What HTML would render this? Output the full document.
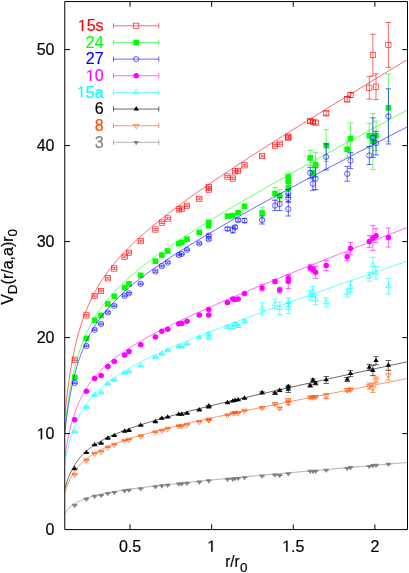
<!DOCTYPE html>
<html><head><meta charset="utf-8"><title>V_D potentials</title>
<style>
html,body{margin:0;padding:0;background:#fff;}
body{width:409px;height:573px;overflow:hidden;position:relative;font-family:"Liberation Sans",sans-serif;}
svg text{font-family:"Liberation Sans",sans-serif;stroke-width:0.18px;paint-order:stroke;}
</style></head><body>
<svg width="409" height="573" viewBox="0 0 409 573" style="position:absolute;left:0;top:0;will-change:transform">
<defs><clipPath id="c"><rect x="64.75" y="1.55" width="342.75" height="528.0500000000001"/></clipPath></defs>
<g clip-path="url(#c)">
<path d="M74.70 358.90V360.70M71.90 358.90H77.50M71.90 360.70H77.50" stroke="#ff0000" stroke-width="0.6" fill="none"/>
<rect x="72.05" y="357.15" width="5.30" height="5.30" fill="none" stroke="#ff0000" stroke-width="0.6"/>
<path d="M86.40 314.50V316.30M83.60 314.50H89.20M83.60 316.30H89.20" stroke="#ff0000" stroke-width="0.6" fill="none"/>
<rect x="83.75" y="312.75" width="5.30" height="5.30" fill="none" stroke="#ff0000" stroke-width="0.6"/>
<path d="M94.60 295.00V296.80M91.80 295.00H97.40M91.80 296.80H97.40" stroke="#ff0000" stroke-width="0.6" fill="none"/>
<rect x="91.95" y="293.25" width="5.30" height="5.30" fill="none" stroke="#ff0000" stroke-width="0.6"/>
<path d="M101.10 290.10V291.90M98.30 290.10H103.90M98.30 291.90H103.90" stroke="#ff0000" stroke-width="0.6" fill="none"/>
<rect x="98.45" y="288.35" width="5.30" height="5.30" fill="none" stroke="#ff0000" stroke-width="0.6"/>
<path d="M107.80 277.40V279.20M105.00 277.40H110.60M105.00 279.20H110.60" stroke="#ff0000" stroke-width="0.6" fill="none"/>
<rect x="105.15" y="275.65" width="5.30" height="5.30" fill="none" stroke="#ff0000" stroke-width="0.6"/>
<path d="M114.30 267.60V269.40M111.50 267.60H117.10M111.50 269.40H117.10" stroke="#ff0000" stroke-width="0.6" fill="none"/>
<rect x="111.65" y="265.85" width="5.30" height="5.30" fill="none" stroke="#ff0000" stroke-width="0.6"/>
<path d="M124.60 255.90V257.70M121.80 255.90H127.40M121.80 257.70H127.40" stroke="#ff0000" stroke-width="0.6" fill="none"/>
<rect x="121.95" y="254.15" width="5.30" height="5.30" fill="none" stroke="#ff0000" stroke-width="0.6"/>
<path d="M129.00 251.90V253.70M126.20 251.90H131.80M126.20 253.70H131.80" stroke="#ff0000" stroke-width="0.6" fill="none"/>
<rect x="126.35" y="250.15" width="5.30" height="5.30" fill="none" stroke="#ff0000" stroke-width="0.6"/>
<path d="M140.70 240.20V242.00M137.90 240.20H143.50M137.90 242.00H143.50" stroke="#ff0000" stroke-width="0.6" fill="none"/>
<rect x="138.05" y="238.45" width="5.30" height="5.30" fill="none" stroke="#ff0000" stroke-width="0.6"/>
<path d="M155.40 228.60V230.40M152.60 228.60H158.20M152.60 230.40H158.20" stroke="#ff0000" stroke-width="0.6" fill="none"/>
<rect x="152.75" y="226.85" width="5.30" height="5.30" fill="none" stroke="#ff0000" stroke-width="0.6"/>
<path d="M161.80 221.70V223.50M159.00 221.70H164.60M159.00 223.50H164.60" stroke="#ff0000" stroke-width="0.6" fill="none"/>
<rect x="159.15" y="219.95" width="5.30" height="5.30" fill="none" stroke="#ff0000" stroke-width="0.6"/>
<path d="M167.70 217.60V219.40M164.90 217.60H170.50M164.90 219.40H170.50" stroke="#ff0000" stroke-width="0.6" fill="none"/>
<rect x="165.05" y="215.85" width="5.30" height="5.30" fill="none" stroke="#ff0000" stroke-width="0.6"/>
<path d="M178.80 208.50V210.30M176.00 208.50H181.60M176.00 210.30H181.60" stroke="#ff0000" stroke-width="0.6" fill="none"/>
<rect x="176.15" y="206.75" width="5.30" height="5.30" fill="none" stroke="#ff0000" stroke-width="0.6"/>
<path d="M181.70 207.80V209.60M178.90 207.80H184.50M178.90 209.60H184.50" stroke="#ff0000" stroke-width="0.6" fill="none"/>
<rect x="179.05" y="206.05" width="5.30" height="5.30" fill="none" stroke="#ff0000" stroke-width="0.6"/>
<path d="M187.00 204.80V206.60M184.20 204.80H189.80M184.20 206.60H189.80" stroke="#ff0000" stroke-width="0.6" fill="none"/>
<rect x="184.35" y="203.05" width="5.30" height="5.30" fill="none" stroke="#ff0000" stroke-width="0.6"/>
<path d="M199.30 198.00V199.80M196.50 198.00H202.10M196.50 199.80H202.10" stroke="#ff0000" stroke-width="0.6" fill="none"/>
<rect x="196.65" y="196.25" width="5.30" height="5.30" fill="none" stroke="#ff0000" stroke-width="0.6"/>
<path d="M208.70 186.30V188.10M205.90 186.30H211.50M205.90 188.10H211.50" stroke="#ff0000" stroke-width="0.6" fill="none"/>
<rect x="206.05" y="184.55" width="5.30" height="5.30" fill="none" stroke="#ff0000" stroke-width="0.6"/>
<path d="M208.70 188.70V190.50M205.90 188.70H211.50M205.90 190.50H211.50" stroke="#ff0000" stroke-width="0.6" fill="none"/>
<rect x="206.05" y="186.95" width="5.30" height="5.30" fill="none" stroke="#ff0000" stroke-width="0.6"/>
<path d="M227.50 175.60V177.40M224.70 175.60H230.30M224.70 177.40H230.30" stroke="#ff0000" stroke-width="0.6" fill="none"/>
<rect x="224.85" y="173.85" width="5.30" height="5.30" fill="none" stroke="#ff0000" stroke-width="0.6"/>
<path d="M232.80 177.70V179.50M230.00 177.70H235.60M230.00 179.50H235.60" stroke="#ff0000" stroke-width="0.6" fill="none"/>
<rect x="230.15" y="175.95" width="5.30" height="5.30" fill="none" stroke="#ff0000" stroke-width="0.6"/>
<path d="M235.10 170.50V172.30M232.30 170.50H237.90M232.30 172.30H237.90" stroke="#ff0000" stroke-width="0.6" fill="none"/>
<rect x="232.45" y="168.75" width="5.30" height="5.30" fill="none" stroke="#ff0000" stroke-width="0.6"/>
<path d="M238.10 170.00V171.80M235.30 170.00H240.90M235.30 171.80H240.90" stroke="#ff0000" stroke-width="0.6" fill="none"/>
<rect x="235.45" y="168.25" width="5.30" height="5.30" fill="none" stroke="#ff0000" stroke-width="0.6"/>
<path d="M244.50 164.40V166.20M241.70 164.40H247.30M241.70 166.20H247.30" stroke="#ff0000" stroke-width="0.6" fill="none"/>
<rect x="241.85" y="162.65" width="5.30" height="5.30" fill="none" stroke="#ff0000" stroke-width="0.6"/>
<path d="M262.10 155.20V157.00M259.30 155.20H264.90M259.30 157.00H264.90" stroke="#ff0000" stroke-width="0.6" fill="none"/>
<rect x="259.45" y="153.45" width="5.30" height="5.30" fill="none" stroke="#ff0000" stroke-width="0.6"/>
<path d="M275.00 144.60V146.60M272.20 144.60H277.80M272.20 146.60H277.80" stroke="#ff0000" stroke-width="0.6" fill="none"/>
<rect x="272.35" y="142.95" width="5.30" height="5.30" fill="none" stroke="#ff0000" stroke-width="0.6"/>
<path d="M279.70 142.60V144.60M276.90 142.60H282.50M276.90 144.60H282.50" stroke="#ff0000" stroke-width="0.6" fill="none"/>
<rect x="277.05" y="140.95" width="5.30" height="5.30" fill="none" stroke="#ff0000" stroke-width="0.6"/>
<path d="M288.30 135.40V137.80M285.50 135.40H291.10M285.50 137.80H291.10" stroke="#ff0000" stroke-width="0.6" fill="none"/>
<rect x="285.65" y="133.95" width="5.30" height="5.30" fill="none" stroke="#ff0000" stroke-width="0.6"/>
<path d="M288.30 136.40V138.80M285.50 136.40H291.10M285.50 138.80H291.10" stroke="#ff0000" stroke-width="0.6" fill="none"/>
<rect x="285.65" y="134.95" width="5.30" height="5.30" fill="none" stroke="#ff0000" stroke-width="0.6"/>
<path d="M310.20 119.60V122.60M307.40 119.60H313.00M307.40 122.60H313.00" stroke="#ff0000" stroke-width="0.6" fill="none"/>
<rect x="307.55" y="118.45" width="5.30" height="5.30" fill="none" stroke="#ff0000" stroke-width="0.6"/>
<path d="M312.90 120.40V123.40M310.10 120.40H315.70M310.10 123.40H315.70" stroke="#ff0000" stroke-width="0.6" fill="none"/>
<rect x="310.25" y="119.25" width="5.30" height="5.30" fill="none" stroke="#ff0000" stroke-width="0.6"/>
<path d="M315.60 121.10V124.10M312.80 121.10H318.40M312.80 124.10H318.40" stroke="#ff0000" stroke-width="0.6" fill="none"/>
<rect x="312.95" y="119.95" width="5.30" height="5.30" fill="none" stroke="#ff0000" stroke-width="0.6"/>
<path d="M326.20 111.30V115.30M323.40 111.30H329.00M323.40 115.30H329.00" stroke="#ff0000" stroke-width="0.6" fill="none"/>
<rect x="323.55" y="110.65" width="5.30" height="5.30" fill="none" stroke="#ff0000" stroke-width="0.6"/>
<path d="M347.20 96.80V101.80M344.40 96.80H350.00M344.40 101.80H350.00" stroke="#ff0000" stroke-width="0.6" fill="none"/>
<rect x="344.55" y="96.65" width="5.30" height="5.30" fill="none" stroke="#ff0000" stroke-width="0.6"/>
<path d="M350.50 92.50V97.50M347.70 92.50H353.30M347.70 97.50H353.30" stroke="#ff0000" stroke-width="0.6" fill="none"/>
<rect x="347.85" y="92.35" width="5.30" height="5.30" fill="none" stroke="#ff0000" stroke-width="0.6"/>
<path d="M369.30 76.60V99.00M366.50 76.60H372.10M366.50 99.00H372.10" stroke="#ff0000" stroke-width="0.6" fill="none"/>
<rect x="366.65" y="85.15" width="5.30" height="5.30" fill="none" stroke="#ff0000" stroke-width="0.6"/>
<path d="M372.90 34.30V75.90M370.10 34.30H375.70M370.10 75.90H375.70" stroke="#ff0000" stroke-width="0.6" fill="none"/>
<rect x="370.25" y="52.45" width="5.30" height="5.30" fill="none" stroke="#ff0000" stroke-width="0.6"/>
<path d="M376.00 73.80V99.60M373.20 73.80H378.80M373.20 99.60H378.80" stroke="#ff0000" stroke-width="0.6" fill="none"/>
<rect x="373.35" y="84.05" width="5.30" height="5.30" fill="none" stroke="#ff0000" stroke-width="0.6"/>
<path d="M388.40 22.45V67.45M385.60 22.45H391.20M385.60 67.45H391.20" stroke="#ff0000" stroke-width="0.6" fill="none"/>
<rect x="385.75" y="42.30" width="5.30" height="5.30" fill="none" stroke="#ff0000" stroke-width="0.6"/>
<path d="M64.75 417.20 L65.22 412.25 L65.70 407.55 L66.17 403.09 L66.64 398.85 L67.12 394.80 L67.59 390.95 L68.06 387.26 L68.53 383.74 L69.01 380.36 L69.48 377.13 L69.95 374.02 L70.43 371.04 L70.90 368.17 L71.37 365.41 L71.85 362.74 L72.32 360.18 L72.79 357.70 L73.27 355.30 L73.74 352.99 L74.21 350.75 L74.68 348.58 L75.16 346.48 L75.63 344.44 L76.10 342.46 L76.58 340.54 L77.05 338.67 L77.52 336.86 L78.00 335.09 L78.47 333.37 L78.94 331.70 L79.42 330.07 L79.89 328.48 L80.36 326.92 L80.83 325.41 L81.31 323.93 L81.78 322.49 L82.25 321.08 L82.73 319.70 L83.20 318.35 L83.67 317.02 L84.15 315.73 L84.62 314.46 L85.09 313.22 L85.57 312.01 L86.04 310.81 L86.51 309.64 L86.98 308.49 L87.46 307.37 L87.93 306.26 L88.40 305.17 L88.88 304.10 L89.35 303.06 L89.82 302.02 L90.30 301.01 L90.77 300.01 L91.24 299.03 L91.72 298.06 L92.19 297.11 L92.66 296.17 L93.14 295.25 L93.61 294.34 L94.08 293.44 L94.55 292.56 L95.03 291.69 L95.50 290.83 L95.97 289.98 L96.45 289.14 L96.92 288.32 L97.39 287.50 L99.49 284.02 L101.58 280.71 L103.67 277.56 L105.76 274.56 L107.86 271.68 L109.95 268.91 L112.04 266.25 L114.13 263.67 L116.23 261.18 L118.32 258.77 L120.41 256.43 L122.50 254.15 L124.60 251.93 L126.69 249.76 L128.78 247.64 L130.87 245.57 L132.97 243.54 L135.06 241.55 L137.15 239.60 L139.24 237.68 L141.34 235.79 L143.43 233.93 L145.52 232.10 L147.61 230.30 L149.71 228.52 L151.80 226.76 L153.89 225.03 L155.98 223.31 L158.08 221.62 L160.17 219.94 L162.26 218.28 L164.35 216.63 L166.45 215.00 L168.54 213.39 L170.63 211.78 L172.72 210.20 L174.82 208.62 L176.91 207.05 L179.00 205.50 L184.19 201.69 L189.39 197.94 L194.58 194.24 L199.77 190.59 L204.97 186.98 L210.16 183.41 L215.35 179.87 L220.55 176.36 L225.74 172.88 L230.93 169.43 L236.12 166.01 L241.32 162.60 L246.51 159.22 L251.70 155.85 L256.90 152.50 L262.09 149.17 L267.28 145.85 L272.48 142.55 L277.67 139.26 L282.86 135.98 L288.06 132.72 L293.25 129.46 L298.44 126.22 L303.64 122.98 L308.83 119.75 L314.02 116.53 L319.22 113.32 L324.41 110.12 L329.60 106.92 L334.80 103.73 L339.99 100.54 L345.18 97.36 L350.38 94.19 L355.57 91.02 L360.76 87.86 L365.95 84.70 L371.15 81.55 L376.34 78.40 L381.53 75.26 L386.73 72.11 L391.92 68.98 L397.11 65.84 L402.31 62.71 L407.50 59.59" fill="none" stroke="#ff0000" stroke-width="0.6"/>
</g>
<g clip-path="url(#c)">
<path d="M74.70 376.50V378.10M71.90 376.50H77.50M71.90 378.10H77.50" stroke="#00ff00" stroke-width="0.6" fill="none"/>
<rect x="71.90" y="374.50" width="5.60" height="5.60" fill="#00ff00"/>
<path d="M86.40 337.60V339.20M83.60 337.60H89.20M83.60 339.20H89.20" stroke="#00ff00" stroke-width="0.6" fill="none"/>
<rect x="83.60" y="335.60" width="5.60" height="5.60" fill="#00ff00"/>
<path d="M94.60 319.40V321.00M91.80 319.40H97.40M91.80 321.00H97.40" stroke="#00ff00" stroke-width="0.6" fill="none"/>
<rect x="91.80" y="317.40" width="5.60" height="5.60" fill="#00ff00"/>
<path d="M101.10 314.60V316.20M98.30 314.60H103.90M98.30 316.20H103.90" stroke="#00ff00" stroke-width="0.6" fill="none"/>
<rect x="98.30" y="312.60" width="5.60" height="5.60" fill="#00ff00"/>
<path d="M107.80 303.10V304.70M105.00 303.10H110.60M105.00 304.70H110.60" stroke="#00ff00" stroke-width="0.6" fill="none"/>
<rect x="105.00" y="301.10" width="5.60" height="5.60" fill="#00ff00"/>
<path d="M114.30 295.50V297.10M111.50 295.50H117.10M111.50 297.10H117.10" stroke="#00ff00" stroke-width="0.6" fill="none"/>
<rect x="111.50" y="293.50" width="5.60" height="5.60" fill="#00ff00"/>
<path d="M124.60 286.90V288.50M121.80 286.90H127.40M121.80 288.50H127.40" stroke="#00ff00" stroke-width="0.6" fill="none"/>
<rect x="121.80" y="284.90" width="5.60" height="5.60" fill="#00ff00"/>
<path d="M129.00 283.00V284.60M126.20 283.00H131.80M126.20 284.60H131.80" stroke="#00ff00" stroke-width="0.6" fill="none"/>
<rect x="126.20" y="281.00" width="5.60" height="5.60" fill="#00ff00"/>
<path d="M140.70 274.50V276.10M137.90 274.50H143.50M137.90 276.10H143.50" stroke="#00ff00" stroke-width="0.6" fill="none"/>
<rect x="137.90" y="272.50" width="5.60" height="5.60" fill="#00ff00"/>
<path d="M155.40 260.40V262.00M152.60 260.40H158.20M152.60 262.00H158.20" stroke="#00ff00" stroke-width="0.6" fill="none"/>
<rect x="152.60" y="258.40" width="5.60" height="5.60" fill="#00ff00"/>
<path d="M161.80 254.30V255.90M159.00 254.30H164.60M159.00 255.90H164.60" stroke="#00ff00" stroke-width="0.6" fill="none"/>
<rect x="159.00" y="252.30" width="5.60" height="5.60" fill="#00ff00"/>
<path d="M167.70 250.20V251.80M164.90 250.20H170.50M164.90 251.80H170.50" stroke="#00ff00" stroke-width="0.6" fill="none"/>
<rect x="164.90" y="248.20" width="5.60" height="5.60" fill="#00ff00"/>
<path d="M178.80 242.80V244.40M176.00 242.80H181.60M176.00 244.40H181.60" stroke="#00ff00" stroke-width="0.6" fill="none"/>
<rect x="176.00" y="240.80" width="5.60" height="5.60" fill="#00ff00"/>
<path d="M181.70 241.60V243.20M178.90 241.60H184.50M178.90 243.20H184.50" stroke="#00ff00" stroke-width="0.6" fill="none"/>
<rect x="178.90" y="239.60" width="5.60" height="5.60" fill="#00ff00"/>
<path d="M187.00 238.40V240.00M184.20 238.40H189.80M184.20 240.00H189.80" stroke="#00ff00" stroke-width="0.6" fill="none"/>
<rect x="184.20" y="236.40" width="5.60" height="5.60" fill="#00ff00"/>
<path d="M199.30 231.60V233.20M196.50 231.60H202.10M196.50 233.20H202.10" stroke="#00ff00" stroke-width="0.6" fill="none"/>
<rect x="196.50" y="229.60" width="5.60" height="5.60" fill="#00ff00"/>
<path d="M208.70 221.40V223.40M205.90 221.40H211.50M205.90 223.40H211.50" stroke="#00ff00" stroke-width="0.6" fill="none"/>
<rect x="205.90" y="219.60" width="5.60" height="5.60" fill="#00ff00"/>
<path d="M208.70 224.80V226.80M205.90 224.80H211.50M205.90 226.80H211.50" stroke="#00ff00" stroke-width="0.6" fill="none"/>
<rect x="205.90" y="223.00" width="5.60" height="5.60" fill="#00ff00"/>
<path d="M227.50 214.60V217.60M224.70 214.60H230.30M224.70 217.60H230.30" stroke="#00ff00" stroke-width="0.6" fill="none"/>
<rect x="224.70" y="213.30" width="5.60" height="5.60" fill="#00ff00"/>
<path d="M232.80 214.10V217.10M230.00 214.10H235.60M230.00 217.10H235.60" stroke="#00ff00" stroke-width="0.6" fill="none"/>
<rect x="230.00" y="212.80" width="5.60" height="5.60" fill="#00ff00"/>
<path d="M238.10 211.10V214.10M235.30 211.10H240.90M235.30 214.10H240.90" stroke="#00ff00" stroke-width="0.6" fill="none"/>
<rect x="235.30" y="209.80" width="5.60" height="5.60" fill="#00ff00"/>
<path d="M244.50 204.20V208.20M241.70 204.20H247.30M241.70 208.20H247.30" stroke="#00ff00" stroke-width="0.6" fill="none"/>
<rect x="241.70" y="203.40" width="5.60" height="5.60" fill="#00ff00"/>
<path d="M262.10 207.20V218.60M259.30 207.20H264.90M259.30 218.60H264.90" stroke="#00ff00" stroke-width="0.6" fill="none"/>
<rect x="259.30" y="210.10" width="5.60" height="5.60" fill="#00ff00"/>
<path d="M275.00 187.50V199.50M272.20 187.50H277.80M272.20 199.50H277.80" stroke="#00ff00" stroke-width="0.6" fill="none"/>
<rect x="272.20" y="190.70" width="5.60" height="5.60" fill="#00ff00"/>
<path d="M279.70 189.70V201.70M276.90 189.70H282.50M276.90 201.70H282.50" stroke="#00ff00" stroke-width="0.6" fill="none"/>
<rect x="276.90" y="192.90" width="5.60" height="5.60" fill="#00ff00"/>
<path d="M288.30 173.00V181.00M285.50 173.00H291.10M285.50 181.00H291.10" stroke="#00ff00" stroke-width="0.6" fill="none"/>
<rect x="285.50" y="174.20" width="5.60" height="5.60" fill="#00ff00"/>
<path d="M288.30 177.40V185.40M285.50 177.40H291.10M285.50 185.40H291.10" stroke="#00ff00" stroke-width="0.6" fill="none"/>
<rect x="285.50" y="178.60" width="5.60" height="5.60" fill="#00ff00"/>
<path d="M288.30 181.00V195.00M285.50 181.00H291.10M285.50 195.00H291.10" stroke="#00ff00" stroke-width="0.6" fill="none"/>
<rect x="285.50" y="185.20" width="5.60" height="5.60" fill="#00ff00"/>
<path d="M310.20 150.50V165.30M307.40 150.50H313.00M307.40 165.30H313.00" stroke="#00ff00" stroke-width="0.6" fill="none"/>
<rect x="307.40" y="155.10" width="5.60" height="5.60" fill="#00ff00"/>
<path d="M312.90 165.80V179.80M310.10 165.80H315.70M310.10 179.80H315.70" stroke="#00ff00" stroke-width="0.6" fill="none"/>
<rect x="310.10" y="170.00" width="5.60" height="5.60" fill="#00ff00"/>
<path d="M315.60 152.40V176.80M312.80 152.40H318.40M312.80 176.80H318.40" stroke="#00ff00" stroke-width="0.6" fill="none"/>
<rect x="312.80" y="161.80" width="5.60" height="5.60" fill="#00ff00"/>
<path d="M326.20 129.70V161.50M323.40 129.70H329.00M323.40 161.50H329.00" stroke="#00ff00" stroke-width="0.6" fill="none"/>
<rect x="323.40" y="142.80" width="5.60" height="5.60" fill="#00ff00"/>
<path d="M347.20 141.20V157.20M344.40 141.20H350.00M344.40 157.20H350.00" stroke="#00ff00" stroke-width="0.6" fill="none"/>
<rect x="344.40" y="146.40" width="5.60" height="5.60" fill="#00ff00"/>
<path d="M350.50 122.90V154.10M347.70 122.90H353.30M347.70 154.10H353.30" stroke="#00ff00" stroke-width="0.6" fill="none"/>
<rect x="347.70" y="135.70" width="5.60" height="5.60" fill="#00ff00"/>
<path d="M369.30 123.30V148.10M366.50 123.30H372.10M366.50 148.10H372.10" stroke="#00ff00" stroke-width="0.6" fill="none"/>
<rect x="366.50" y="132.90" width="5.60" height="5.60" fill="#00ff00"/>
<path d="M372.90 113.50V169.50M370.10 113.50H375.70M370.10 169.50H375.70" stroke="#00ff00" stroke-width="0.6" fill="none"/>
<rect x="370.10" y="138.70" width="5.60" height="5.60" fill="#00ff00"/>
<path d="M376.00 121.00V150.40M373.20 121.00H378.80M373.20 150.40H378.80" stroke="#00ff00" stroke-width="0.6" fill="none"/>
<rect x="373.20" y="132.90" width="5.60" height="5.60" fill="#00ff00"/>
<path d="M388.40 74.00V141.60M385.60 74.00H391.20M385.60 141.60H391.20" stroke="#00ff00" stroke-width="0.6" fill="none"/>
<rect x="385.60" y="105.00" width="5.60" height="5.60" fill="#00ff00"/>
<path d="M64.75 429.25 L65.22 424.82 L65.70 420.63 L66.17 416.65 L66.64 412.86 L67.12 409.25 L67.59 405.80 L68.06 402.51 L68.53 399.37 L69.01 396.35 L69.48 393.46 L69.95 390.69 L70.43 388.03 L70.90 385.47 L71.37 383.00 L71.85 380.62 L72.32 378.33 L72.79 376.12 L73.27 373.98 L73.74 371.91 L74.21 369.91 L74.68 367.97 L75.16 366.10 L75.63 364.28 L76.10 362.51 L76.58 360.80 L77.05 359.13 L77.52 357.51 L78.00 355.93 L78.47 354.40 L78.94 352.90 L79.42 351.45 L79.89 350.03 L80.36 348.64 L80.83 347.29 L81.31 345.97 L81.78 344.68 L82.25 343.42 L82.73 342.19 L83.20 340.98 L83.67 339.80 L84.15 338.64 L84.62 337.51 L85.09 336.41 L85.57 335.32 L86.04 334.25 L86.51 333.21 L86.98 332.18 L87.46 331.18 L87.93 330.19 L88.40 329.22 L88.88 328.26 L89.35 327.33 L89.82 326.41 L90.30 325.50 L90.77 324.61 L91.24 323.73 L91.72 322.87 L92.19 322.02 L92.66 321.18 L93.14 320.36 L93.61 319.55 L94.08 318.74 L94.55 317.96 L95.03 317.18 L95.50 316.41 L95.97 315.65 L96.45 314.91 L96.92 314.17 L97.39 313.44 L99.49 310.33 L101.58 307.38 L103.67 304.57 L105.76 301.88 L107.86 299.31 L109.95 296.84 L112.04 294.46 L114.13 292.16 L116.23 289.94 L118.32 287.79 L120.41 285.70 L122.50 283.66 L124.60 281.68 L126.69 279.74 L128.78 277.85 L130.87 276.00 L132.97 274.19 L135.06 272.42 L137.15 270.67 L139.24 268.96 L141.34 267.27 L143.43 265.61 L145.52 263.98 L147.61 262.37 L149.71 260.78 L151.80 259.21 L153.89 257.66 L155.98 256.13 L158.08 254.61 L160.17 253.12 L162.26 251.63 L164.35 250.16 L166.45 248.71 L168.54 247.27 L170.63 245.84 L172.72 244.42 L174.82 243.01 L176.91 241.61 L179.00 240.23 L184.19 236.82 L189.39 233.47 L194.58 230.17 L199.77 226.91 L204.97 223.69 L210.16 220.50 L215.35 217.34 L220.55 214.21 L225.74 211.10 L230.93 208.02 L236.12 204.96 L241.32 201.92 L246.51 198.90 L251.70 195.90 L256.90 192.91 L262.09 189.93 L267.28 186.97 L272.48 184.02 L277.67 181.08 L282.86 178.16 L288.06 175.24 L293.25 172.33 L298.44 169.43 L303.64 166.55 L308.83 163.66 L314.02 160.79 L319.22 157.92 L324.41 155.06 L329.60 152.21 L334.80 149.36 L339.99 146.51 L345.18 143.67 L350.38 140.84 L355.57 138.01 L360.76 135.19 L365.95 132.37 L371.15 129.55 L376.34 126.74 L381.53 123.94 L386.73 121.13 L391.92 118.33 L397.11 115.53 L402.31 112.74 L407.50 109.95" fill="none" stroke="#00ff00" stroke-width="0.6"/>
</g>
<g clip-path="url(#c)">
<path d="M74.70 382.10V383.70M71.90 382.10H77.50M71.90 383.70H77.50" stroke="#0000ff" stroke-width="0.6" fill="none"/>
<circle cx="74.70" cy="382.90" r="2.65" fill="none" stroke="#0000ff" stroke-width="0.6"/>
<path d="M86.40 345.10V346.70M83.60 345.10H89.20M83.60 346.70H89.20" stroke="#0000ff" stroke-width="0.6" fill="none"/>
<circle cx="86.40" cy="345.90" r="2.65" fill="none" stroke="#0000ff" stroke-width="0.6"/>
<path d="M94.60 329.00V330.60M91.80 329.00H97.40M91.80 330.60H97.40" stroke="#0000ff" stroke-width="0.6" fill="none"/>
<circle cx="94.60" cy="329.80" r="2.65" fill="none" stroke="#0000ff" stroke-width="0.6"/>
<path d="M101.10 323.10V324.70M98.30 323.10H103.90M98.30 324.70H103.90" stroke="#0000ff" stroke-width="0.6" fill="none"/>
<circle cx="101.10" cy="323.90" r="2.65" fill="none" stroke="#0000ff" stroke-width="0.6"/>
<path d="M107.80 311.70V313.30M105.00 311.70H110.60M105.00 313.30H110.60" stroke="#0000ff" stroke-width="0.6" fill="none"/>
<circle cx="107.80" cy="312.50" r="2.65" fill="none" stroke="#0000ff" stroke-width="0.6"/>
<path d="M114.30 305.00V306.60M111.50 305.00H117.10M111.50 306.60H117.10" stroke="#0000ff" stroke-width="0.6" fill="none"/>
<circle cx="114.30" cy="305.80" r="2.65" fill="none" stroke="#0000ff" stroke-width="0.6"/>
<path d="M124.60 295.10V296.70M121.80 295.10H127.40M121.80 296.70H127.40" stroke="#0000ff" stroke-width="0.6" fill="none"/>
<circle cx="124.60" cy="295.90" r="2.65" fill="none" stroke="#0000ff" stroke-width="0.6"/>
<path d="M129.00 292.50V294.10M126.20 292.50H131.80M126.20 294.10H131.80" stroke="#0000ff" stroke-width="0.6" fill="none"/>
<circle cx="129.00" cy="293.30" r="2.65" fill="none" stroke="#0000ff" stroke-width="0.6"/>
<path d="M140.70 283.00V284.60M137.90 283.00H143.50M137.90 284.60H143.50" stroke="#0000ff" stroke-width="0.6" fill="none"/>
<circle cx="140.70" cy="283.80" r="2.65" fill="none" stroke="#0000ff" stroke-width="0.6"/>
<path d="M155.40 270.70V272.30M152.60 270.70H158.20M152.60 272.30H158.20" stroke="#0000ff" stroke-width="0.6" fill="none"/>
<circle cx="155.40" cy="271.50" r="2.65" fill="none" stroke="#0000ff" stroke-width="0.6"/>
<path d="M161.80 265.30V266.90M159.00 265.30H164.60M159.00 266.90H164.60" stroke="#0000ff" stroke-width="0.6" fill="none"/>
<circle cx="161.80" cy="266.10" r="2.65" fill="none" stroke="#0000ff" stroke-width="0.6"/>
<path d="M167.70 261.70V263.30M164.90 261.70H170.50M164.90 263.30H170.50" stroke="#0000ff" stroke-width="0.6" fill="none"/>
<circle cx="167.70" cy="262.50" r="2.65" fill="none" stroke="#0000ff" stroke-width="0.6"/>
<path d="M178.80 254.30V255.90M176.00 254.30H181.60M176.00 255.90H181.60" stroke="#0000ff" stroke-width="0.6" fill="none"/>
<circle cx="178.80" cy="255.10" r="2.65" fill="none" stroke="#0000ff" stroke-width="0.6"/>
<path d="M181.70 253.10V254.70M178.90 253.10H184.50M178.90 254.70H184.50" stroke="#0000ff" stroke-width="0.6" fill="none"/>
<circle cx="181.70" cy="253.90" r="2.65" fill="none" stroke="#0000ff" stroke-width="0.6"/>
<path d="M187.00 249.00V250.60M184.20 249.00H189.80M184.20 250.60H189.80" stroke="#0000ff" stroke-width="0.6" fill="none"/>
<circle cx="187.00" cy="249.80" r="2.65" fill="none" stroke="#0000ff" stroke-width="0.6"/>
<path d="M199.30 242.70V244.30M196.50 242.70H202.10M196.50 244.30H202.10" stroke="#0000ff" stroke-width="0.6" fill="none"/>
<circle cx="199.30" cy="243.50" r="2.65" fill="none" stroke="#0000ff" stroke-width="0.6"/>
<path d="M208.70 234.60V236.60M205.90 234.60H211.50M205.90 236.60H211.50" stroke="#0000ff" stroke-width="0.6" fill="none"/>
<circle cx="208.70" cy="235.60" r="2.65" fill="none" stroke="#0000ff" stroke-width="0.6"/>
<path d="M208.70 238.10V240.10M205.90 238.10H211.50M205.90 240.10H211.50" stroke="#0000ff" stroke-width="0.6" fill="none"/>
<circle cx="208.70" cy="239.10" r="2.65" fill="none" stroke="#0000ff" stroke-width="0.6"/>
<path d="M227.50 227.40V230.40M224.70 227.40H230.30M224.70 230.40H230.30" stroke="#0000ff" stroke-width="0.6" fill="none"/>
<circle cx="227.50" cy="228.90" r="2.65" fill="none" stroke="#0000ff" stroke-width="0.6"/>
<path d="M232.80 227.00V233.00M230.00 227.00H235.60M230.00 233.00H235.60" stroke="#0000ff" stroke-width="0.6" fill="none"/>
<circle cx="232.80" cy="230.00" r="2.65" fill="none" stroke="#0000ff" stroke-width="0.6"/>
<path d="M235.10 225.70V228.70M232.30 225.70H237.90M232.30 228.70H237.90" stroke="#0000ff" stroke-width="0.6" fill="none"/>
<circle cx="235.10" cy="227.20" r="2.65" fill="none" stroke="#0000ff" stroke-width="0.6"/>
<path d="M238.10 218.70V221.70M235.30 218.70H240.90M235.30 221.70H240.90" stroke="#0000ff" stroke-width="0.6" fill="none"/>
<circle cx="238.10" cy="220.20" r="2.65" fill="none" stroke="#0000ff" stroke-width="0.6"/>
<path d="M244.50 218.60V222.60M241.70 218.60H247.30M241.70 222.60H247.30" stroke="#0000ff" stroke-width="0.6" fill="none"/>
<circle cx="244.50" cy="220.60" r="2.65" fill="none" stroke="#0000ff" stroke-width="0.6"/>
<path d="M262.10 216.00V224.00M259.30 216.00H264.90M259.30 224.00H264.90" stroke="#0000ff" stroke-width="0.6" fill="none"/>
<circle cx="262.10" cy="220.00" r="2.65" fill="none" stroke="#0000ff" stroke-width="0.6"/>
<path d="M275.00 200.60V210.60M272.20 200.60H277.80M272.20 210.60H277.80" stroke="#0000ff" stroke-width="0.6" fill="none"/>
<circle cx="275.00" cy="205.60" r="2.65" fill="none" stroke="#0000ff" stroke-width="0.6"/>
<path d="M279.70 197.60V210.60M276.90 197.60H282.50M276.90 210.60H282.50" stroke="#0000ff" stroke-width="0.6" fill="none"/>
<circle cx="279.70" cy="204.10" r="2.65" fill="none" stroke="#0000ff" stroke-width="0.6"/>
<path d="M288.30 189.50V197.50M285.50 189.50H291.10M285.50 197.50H291.10" stroke="#0000ff" stroke-width="0.6" fill="none"/>
<circle cx="288.30" cy="193.50" r="2.65" fill="none" stroke="#0000ff" stroke-width="0.6"/>
<path d="M288.30 194.00V202.00M285.50 194.00H291.10M285.50 202.00H291.10" stroke="#0000ff" stroke-width="0.6" fill="none"/>
<circle cx="288.30" cy="198.00" r="2.65" fill="none" stroke="#0000ff" stroke-width="0.6"/>
<path d="M288.30 202.00V216.00M285.50 202.00H291.10M285.50 216.00H291.10" stroke="#0000ff" stroke-width="0.6" fill="none"/>
<circle cx="288.30" cy="209.00" r="2.65" fill="none" stroke="#0000ff" stroke-width="0.6"/>
<path d="M310.20 167.30V178.30M307.40 167.30H313.00M307.40 178.30H313.00" stroke="#0000ff" stroke-width="0.6" fill="none"/>
<circle cx="310.20" cy="172.80" r="2.65" fill="none" stroke="#0000ff" stroke-width="0.6"/>
<path d="M312.90 177.30V190.30M310.10 177.30H315.70M310.10 190.30H315.70" stroke="#0000ff" stroke-width="0.6" fill="none"/>
<circle cx="312.90" cy="183.80" r="2.65" fill="none" stroke="#0000ff" stroke-width="0.6"/>
<path d="M315.60 167.80V189.60M312.80 167.80H318.40M312.80 189.60H318.40" stroke="#0000ff" stroke-width="0.6" fill="none"/>
<circle cx="315.60" cy="178.70" r="2.65" fill="none" stroke="#0000ff" stroke-width="0.6"/>
<path d="M326.20 143.90V169.90M323.40 143.90H329.00M323.40 169.90H329.00" stroke="#0000ff" stroke-width="0.6" fill="none"/>
<circle cx="326.20" cy="156.90" r="2.65" fill="none" stroke="#0000ff" stroke-width="0.6"/>
<path d="M347.20 166.40V181.20M344.40 166.40H350.00M344.40 181.20H350.00" stroke="#0000ff" stroke-width="0.6" fill="none"/>
<circle cx="347.20" cy="173.80" r="2.65" fill="none" stroke="#0000ff" stroke-width="0.6"/>
<path d="M350.50 152.60V168.60M347.70 152.60H353.30M347.70 168.60H353.30" stroke="#0000ff" stroke-width="0.6" fill="none"/>
<circle cx="350.50" cy="160.60" r="2.65" fill="none" stroke="#0000ff" stroke-width="0.6"/>
<path d="M369.30 146.50V164.50M366.50 146.50H372.10M366.50 164.50H372.10" stroke="#0000ff" stroke-width="0.6" fill="none"/>
<circle cx="369.30" cy="155.50" r="2.65" fill="none" stroke="#0000ff" stroke-width="0.6"/>
<path d="M372.90 117.80V157.40M370.10 117.80H375.70M370.10 157.40H375.70" stroke="#0000ff" stroke-width="0.6" fill="none"/>
<circle cx="372.90" cy="137.60" r="2.65" fill="none" stroke="#0000ff" stroke-width="0.6"/>
<path d="M376.00 131.30V154.90M373.20 131.30H378.80M373.20 154.90H378.80" stroke="#0000ff" stroke-width="0.6" fill="none"/>
<circle cx="376.00" cy="143.10" r="2.65" fill="none" stroke="#0000ff" stroke-width="0.6"/>
<path d="M388.40 88.80V144.00M385.60 88.80H391.20M385.60 144.00H391.20" stroke="#0000ff" stroke-width="0.6" fill="none"/>
<circle cx="388.40" cy="116.40" r="2.65" fill="none" stroke="#0000ff" stroke-width="0.6"/>
<path d="M64.75 433.26 L65.22 429.01 L65.70 424.99 L66.17 421.16 L66.64 417.53 L67.12 414.06 L67.59 410.75 L68.06 407.60 L68.53 404.57 L69.01 401.68 L69.48 398.91 L69.95 396.25 L70.43 393.69 L70.90 391.23 L71.37 388.86 L71.85 386.58 L72.32 384.38 L72.79 382.26 L73.27 380.20 L73.74 378.22 L74.21 376.30 L74.68 374.44 L75.16 372.64 L75.63 370.89 L76.10 369.19 L76.58 367.55 L77.05 365.95 L77.52 364.39 L78.00 362.88 L78.47 361.40 L78.94 359.97 L79.42 358.57 L79.89 357.21 L80.36 355.88 L80.83 354.58 L81.31 353.31 L81.78 352.08 L82.25 350.87 L82.73 349.68 L83.20 348.52 L83.67 347.39 L84.15 346.28 L84.62 345.20 L85.09 344.13 L85.57 343.09 L86.04 342.07 L86.51 341.06 L86.98 340.08 L87.46 339.11 L87.93 338.17 L88.40 337.23 L88.88 336.32 L89.35 335.42 L89.82 334.53 L90.30 333.66 L90.77 332.81 L91.24 331.97 L91.72 331.14 L92.19 330.32 L92.66 329.52 L93.14 328.73 L93.61 327.95 L94.08 327.18 L94.55 326.42 L95.03 325.67 L95.50 324.94 L95.97 324.21 L96.45 323.49 L96.92 322.79 L97.39 322.09 L99.49 319.10 L101.58 316.27 L103.67 313.57 L105.76 310.99 L107.86 308.52 L109.95 306.15 L112.04 303.87 L114.13 301.66 L116.23 299.53 L118.32 297.46 L120.41 295.45 L122.50 293.50 L124.60 291.60 L126.69 289.74 L128.78 287.92 L130.87 286.15 L132.97 284.41 L135.06 282.70 L137.15 281.03 L139.24 279.38 L141.34 277.77 L143.43 276.17 L145.52 274.60 L147.61 273.06 L149.71 271.53 L151.80 270.03 L153.89 268.54 L155.98 267.07 L158.08 265.61 L160.17 264.18 L162.26 262.75 L164.35 261.34 L166.45 259.94 L168.54 258.56 L170.63 257.19 L172.72 255.82 L174.82 254.47 L176.91 253.13 L179.00 251.80 L184.19 248.54 L189.39 245.32 L194.58 242.15 L199.77 239.02 L204.97 235.92 L210.16 232.86 L215.35 229.83 L220.55 226.82 L225.74 223.84 L230.93 220.89 L236.12 217.95 L241.32 215.03 L246.51 212.13 L251.70 209.24 L256.90 206.37 L262.09 203.52 L267.28 200.68 L272.48 197.84 L277.67 195.02 L282.86 192.21 L288.06 189.41 L293.25 186.62 L298.44 183.84 L303.64 181.07 L308.83 178.30 L314.02 175.54 L319.22 172.79 L324.41 170.04 L329.60 167.30 L334.80 164.57 L339.99 161.84 L345.18 159.11 L350.38 156.39 L355.57 153.68 L360.76 150.97 L365.95 148.26 L371.15 145.56 L376.34 142.86 L381.53 140.16 L386.73 137.47 L391.92 134.78 L397.11 132.09 L402.31 129.41 L407.50 126.73" fill="none" stroke="#0000ff" stroke-width="0.6"/>
</g>
<g clip-path="url(#c)">
<path d="M74.70 419.20V420.40M71.90 419.20H77.50M71.90 420.40H77.50" stroke="#ff00ff" stroke-width="0.6" fill="none"/>
<circle cx="74.70" cy="419.80" r="2.75" fill="#ff00ff"/>
<path d="M86.40 390.60V391.80M83.60 390.60H89.20M83.60 391.80H89.20" stroke="#ff00ff" stroke-width="0.6" fill="none"/>
<circle cx="86.40" cy="391.20" r="2.75" fill="#ff00ff"/>
<path d="M94.60 377.80V379.00M91.80 377.80H97.40M91.80 379.00H97.40" stroke="#ff00ff" stroke-width="0.6" fill="none"/>
<circle cx="94.60" cy="378.40" r="2.75" fill="#ff00ff"/>
<path d="M101.10 375.00V376.20M98.30 375.00H103.90M98.30 376.20H103.90" stroke="#ff00ff" stroke-width="0.6" fill="none"/>
<circle cx="101.10" cy="375.60" r="2.75" fill="#ff00ff"/>
<path d="M107.80 365.90V367.10M105.00 365.90H110.60M105.00 367.10H110.60" stroke="#ff00ff" stroke-width="0.6" fill="none"/>
<circle cx="107.80" cy="366.50" r="2.75" fill="#ff00ff"/>
<path d="M114.30 360.90V362.10M111.50 360.90H117.10M111.50 362.10H117.10" stroke="#ff00ff" stroke-width="0.6" fill="none"/>
<circle cx="114.30" cy="361.50" r="2.75" fill="#ff00ff"/>
<path d="M124.60 354.30V355.50M121.80 354.30H127.40M121.80 355.50H127.40" stroke="#ff00ff" stroke-width="0.6" fill="none"/>
<circle cx="124.60" cy="354.90" r="2.75" fill="#ff00ff"/>
<path d="M129.00 351.00V352.20M126.20 351.00H131.80M126.20 352.20H131.80" stroke="#ff00ff" stroke-width="0.6" fill="none"/>
<circle cx="129.00" cy="351.60" r="2.75" fill="#ff00ff"/>
<path d="M140.70 344.20V345.40M137.90 344.20H143.50M137.90 345.40H143.50" stroke="#ff00ff" stroke-width="0.6" fill="none"/>
<circle cx="140.70" cy="344.80" r="2.75" fill="#ff00ff"/>
<path d="M155.40 336.30V337.50M152.60 336.30H158.20M152.60 337.50H158.20" stroke="#ff00ff" stroke-width="0.6" fill="none"/>
<circle cx="155.40" cy="336.90" r="2.75" fill="#ff00ff"/>
<path d="M161.80 330.60V331.80M159.00 330.60H164.60M159.00 331.80H164.60" stroke="#ff00ff" stroke-width="0.6" fill="none"/>
<circle cx="161.80" cy="331.20" r="2.75" fill="#ff00ff"/>
<path d="M167.70 328.60V329.80M164.90 328.60H170.50M164.90 329.80H170.50" stroke="#ff00ff" stroke-width="0.6" fill="none"/>
<circle cx="167.70" cy="329.20" r="2.75" fill="#ff00ff"/>
<path d="M178.80 323.10V324.30M176.00 323.10H181.60M176.00 324.30H181.60" stroke="#ff00ff" stroke-width="0.6" fill="none"/>
<circle cx="178.80" cy="323.70" r="2.75" fill="#ff00ff"/>
<path d="M181.70 322.90V324.10M178.90 322.90H184.50M178.90 324.10H184.50" stroke="#ff00ff" stroke-width="0.6" fill="none"/>
<circle cx="181.70" cy="323.50" r="2.75" fill="#ff00ff"/>
<path d="M187.00 320.70V321.90M184.20 320.70H189.80M184.20 321.90H189.80" stroke="#ff00ff" stroke-width="0.6" fill="none"/>
<circle cx="187.00" cy="321.30" r="2.75" fill="#ff00ff"/>
<path d="M199.30 314.30V315.50M196.50 314.30H202.10M196.50 315.50H202.10" stroke="#ff00ff" stroke-width="0.6" fill="none"/>
<circle cx="199.30" cy="314.90" r="2.75" fill="#ff00ff"/>
<path d="M208.70 308.80V310.00M205.90 308.80H211.50M205.90 310.00H211.50" stroke="#ff00ff" stroke-width="0.6" fill="none"/>
<circle cx="208.70" cy="309.40" r="2.75" fill="#ff00ff"/>
<path d="M208.70 314.30V315.50M205.90 314.30H211.50M205.90 315.50H211.50" stroke="#ff00ff" stroke-width="0.6" fill="none"/>
<circle cx="208.70" cy="314.90" r="2.75" fill="#ff00ff"/>
<path d="M227.50 301.80V303.00M224.70 301.80H230.30M224.70 303.00H230.30" stroke="#ff00ff" stroke-width="0.6" fill="none"/>
<circle cx="227.50" cy="302.40" r="2.75" fill="#ff00ff"/>
<path d="M232.80 298.50V299.70M230.00 298.50H235.60M230.00 299.70H235.60" stroke="#ff00ff" stroke-width="0.6" fill="none"/>
<circle cx="232.80" cy="299.10" r="2.75" fill="#ff00ff"/>
<path d="M235.10 298.90V300.10M232.30 298.90H237.90M232.30 300.10H237.90" stroke="#ff00ff" stroke-width="0.6" fill="none"/>
<circle cx="235.10" cy="299.50" r="2.75" fill="#ff00ff"/>
<path d="M238.10 298.30V299.50M235.30 298.30H240.90M235.30 299.50H240.90" stroke="#ff00ff" stroke-width="0.6" fill="none"/>
<circle cx="238.10" cy="298.90" r="2.75" fill="#ff00ff"/>
<path d="M244.50 292.60V294.60M241.70 292.60H247.30M241.70 294.60H247.30" stroke="#ff00ff" stroke-width="0.6" fill="none"/>
<circle cx="244.50" cy="293.60" r="2.75" fill="#ff00ff"/>
<path d="M262.10 284.90V290.90M259.30 284.90H264.90M259.30 290.90H264.90" stroke="#ff00ff" stroke-width="0.6" fill="none"/>
<circle cx="262.10" cy="287.90" r="2.75" fill="#ff00ff"/>
<path d="M275.00 279.50V283.50M272.20 279.50H277.80M272.20 283.50H277.80" stroke="#ff00ff" stroke-width="0.6" fill="none"/>
<circle cx="275.00" cy="281.50" r="2.75" fill="#ff00ff"/>
<path d="M279.70 287.10V293.10M276.90 287.10H282.50M276.90 293.10H282.50" stroke="#ff00ff" stroke-width="0.6" fill="none"/>
<circle cx="279.70" cy="290.10" r="2.75" fill="#ff00ff"/>
<path d="M288.30 275.60V281.60M285.50 275.60H291.10M285.50 281.60H291.10" stroke="#ff00ff" stroke-width="0.6" fill="none"/>
<circle cx="288.30" cy="278.60" r="2.75" fill="#ff00ff"/>
<path d="M288.30 274.50V288.50M285.50 274.50H291.10M285.50 288.50H291.10" stroke="#ff00ff" stroke-width="0.6" fill="none"/>
<circle cx="288.30" cy="281.50" r="2.75" fill="#ff00ff"/>
<path d="M310.20 264.70V270.70M307.40 264.70H313.00M307.40 270.70H313.00" stroke="#ff00ff" stroke-width="0.6" fill="none"/>
<circle cx="310.20" cy="267.70" r="2.75" fill="#ff00ff"/>
<path d="M312.90 266.60V272.60M310.10 266.60H315.70M310.10 272.60H315.70" stroke="#ff00ff" stroke-width="0.6" fill="none"/>
<circle cx="312.90" cy="269.60" r="2.75" fill="#ff00ff"/>
<path d="M315.60 266.30V278.30M312.80 266.30H318.40M312.80 278.30H318.40" stroke="#ff00ff" stroke-width="0.6" fill="none"/>
<circle cx="315.60" cy="272.30" r="2.75" fill="#ff00ff"/>
<path d="M326.20 260.60V270.60M323.40 260.60H329.00M323.40 270.60H329.00" stroke="#ff00ff" stroke-width="0.6" fill="none"/>
<circle cx="326.20" cy="265.60" r="2.75" fill="#ff00ff"/>
<path d="M347.20 252.70V260.70M344.40 252.70H350.00M344.40 260.70H350.00" stroke="#ff00ff" stroke-width="0.6" fill="none"/>
<circle cx="347.20" cy="256.70" r="2.75" fill="#ff00ff"/>
<path d="M350.50 242.40V254.80M347.70 242.40H353.30M347.70 254.80H353.30" stroke="#ff00ff" stroke-width="0.6" fill="none"/>
<circle cx="350.50" cy="248.60" r="2.75" fill="#ff00ff"/>
<path d="M369.30 235.40V247.40M366.50 235.40H372.10M366.50 247.40H372.10" stroke="#ff00ff" stroke-width="0.6" fill="none"/>
<circle cx="369.30" cy="241.40" r="2.75" fill="#ff00ff"/>
<path d="M372.90 225.40V250.40M370.10 225.40H375.70M370.10 250.40H375.70" stroke="#ff00ff" stroke-width="0.6" fill="none"/>
<circle cx="372.90" cy="237.90" r="2.75" fill="#ff00ff"/>
<path d="M376.00 228.70V242.70M373.20 228.70H378.80M373.20 242.70H378.80" stroke="#ff00ff" stroke-width="0.6" fill="none"/>
<circle cx="376.00" cy="235.70" r="2.75" fill="#ff00ff"/>
<path d="M388.40 228.10V247.10M385.60 228.10H391.20M385.60 247.10H391.20" stroke="#ff00ff" stroke-width="0.6" fill="none"/>
<circle cx="388.40" cy="237.60" r="2.75" fill="#ff00ff"/>
<path d="M64.75 457.35 L65.22 454.16 L65.70 451.14 L66.17 448.27 L66.64 445.54 L67.12 442.94 L67.59 440.47 L68.06 438.10 L68.53 435.83 L69.01 433.66 L69.48 431.58 L69.95 429.59 L70.43 427.67 L70.90 425.82 L71.37 424.05 L71.85 422.34 L72.32 420.69 L72.79 419.09 L73.27 417.55 L73.74 416.06 L74.21 414.62 L74.68 413.23 L75.16 411.88 L75.63 410.57 L76.10 409.30 L76.58 408.06 L77.05 406.86 L77.52 405.69 L78.00 404.56 L78.47 403.45 L78.94 402.38 L79.42 401.33 L79.89 400.31 L80.36 399.31 L80.83 398.34 L81.31 397.38 L81.78 396.46 L82.25 395.55 L82.73 394.66 L83.20 393.79 L83.67 392.94 L84.15 392.11 L84.62 391.30 L85.09 390.50 L85.57 389.72 L86.04 388.95 L86.51 388.20 L86.98 387.46 L87.46 386.74 L87.93 386.02 L88.40 385.33 L88.88 384.64 L89.35 383.96 L89.82 383.30 L90.30 382.65 L90.77 382.01 L91.24 381.37 L91.72 380.75 L92.19 380.14 L92.66 379.54 L93.14 378.95 L93.61 378.36 L94.08 377.78 L94.55 377.22 L95.03 376.66 L95.50 376.10 L95.97 375.56 L96.45 375.02 L96.92 374.49 L97.39 373.97 L99.49 371.73 L101.58 369.60 L103.67 367.58 L105.76 365.64 L107.86 363.79 L109.95 362.01 L112.04 360.30 L114.13 358.65 L116.23 357.05 L118.32 355.50 L120.41 353.99 L122.50 352.52 L124.60 351.10 L126.69 349.70 L128.78 348.34 L130.87 347.01 L132.97 345.71 L135.06 344.43 L137.15 343.17 L139.24 341.94 L141.34 340.72 L143.43 339.53 L145.52 338.35 L147.61 337.19 L149.71 336.05 L151.80 334.92 L153.89 333.80 L155.98 332.70 L158.08 331.61 L160.17 330.53 L162.26 329.46 L164.35 328.41 L166.45 327.36 L168.54 326.32 L170.63 325.29 L172.72 324.27 L174.82 323.26 L176.91 322.25 L179.00 321.25 L184.19 318.80 L189.39 316.39 L194.58 314.01 L199.77 311.66 L204.97 309.34 L210.16 307.05 L215.35 304.77 L220.55 302.52 L225.74 300.28 L230.93 298.06 L236.12 295.86 L241.32 293.67 L246.51 291.50 L251.70 289.33 L256.90 287.18 L262.09 285.04 L267.28 282.91 L272.48 280.78 L277.67 278.67 L282.86 276.56 L288.06 274.46 L293.25 272.37 L298.44 270.28 L303.64 268.20 L308.83 266.13 L314.02 264.06 L319.22 261.99 L324.41 259.93 L329.60 257.88 L334.80 255.82 L339.99 253.78 L345.18 251.73 L350.38 249.69 L355.57 247.66 L360.76 245.62 L365.95 243.59 L371.15 241.57 L376.34 239.54 L381.53 237.52 L386.73 235.50 L391.92 233.49 L397.11 231.47 L402.31 229.46 L407.50 227.45" fill="none" stroke="#ff00ff" stroke-width="0.6"/>
</g>
<g clip-path="url(#c)">
<path d="M74.70 431.10V432.30M71.90 431.10H77.50M71.90 432.30H77.50" stroke="#00ffff" stroke-width="0.6" fill="none"/>
<polygon points="74.70,428.68 72.00,433.05 77.40,433.05" fill="none" stroke="#00ffff" stroke-width="0.6"/>
<path d="M86.40 406.50V407.70M83.60 406.50H89.20M83.60 407.70H89.20" stroke="#00ffff" stroke-width="0.6" fill="none"/>
<polygon points="86.40,404.08 83.70,408.45 89.10,408.45" fill="none" stroke="#00ffff" stroke-width="0.6"/>
<path d="M94.60 394.40V395.60M91.80 394.40H97.40M91.80 395.60H97.40" stroke="#00ffff" stroke-width="0.6" fill="none"/>
<polygon points="94.60,391.98 91.90,396.35 97.30,396.35" fill="none" stroke="#00ffff" stroke-width="0.6"/>
<path d="M101.10 392.00V393.20M98.30 392.00H103.90M98.30 393.20H103.90" stroke="#00ffff" stroke-width="0.6" fill="none"/>
<polygon points="101.10,389.58 98.40,393.95 103.80,393.95" fill="none" stroke="#00ffff" stroke-width="0.6"/>
<path d="M107.80 383.40V384.60M105.00 383.40H110.60M105.00 384.60H110.60" stroke="#00ffff" stroke-width="0.6" fill="none"/>
<polygon points="107.80,380.98 105.10,385.35 110.50,385.35" fill="none" stroke="#00ffff" stroke-width="0.6"/>
<path d="M114.30 379.40V380.60M111.50 379.40H117.10M111.50 380.60H117.10" stroke="#00ffff" stroke-width="0.6" fill="none"/>
<polygon points="114.30,376.98 111.60,381.35 117.00,381.35" fill="none" stroke="#00ffff" stroke-width="0.6"/>
<path d="M124.60 372.20V373.40M121.80 372.20H127.40M121.80 373.40H127.40" stroke="#00ffff" stroke-width="0.6" fill="none"/>
<polygon points="124.60,369.78 121.90,374.15 127.30,374.15" fill="none" stroke="#00ffff" stroke-width="0.6"/>
<path d="M129.00 371.10V372.30M126.20 371.10H131.80M126.20 372.30H131.80" stroke="#00ffff" stroke-width="0.6" fill="none"/>
<polygon points="129.00,368.68 126.30,373.05 131.70,373.05" fill="none" stroke="#00ffff" stroke-width="0.6"/>
<path d="M140.70 365.20V366.40M137.90 365.20H143.50M137.90 366.40H143.50" stroke="#00ffff" stroke-width="0.6" fill="none"/>
<polygon points="140.70,362.78 138.00,367.15 143.40,367.15" fill="none" stroke="#00ffff" stroke-width="0.6"/>
<path d="M155.40 356.60V357.80M152.60 356.60H158.20M152.60 357.80H158.20" stroke="#00ffff" stroke-width="0.6" fill="none"/>
<polygon points="155.40,354.18 152.70,358.55 158.10,358.55" fill="none" stroke="#00ffff" stroke-width="0.6"/>
<path d="M161.80 353.30V354.50M159.00 353.30H164.60M159.00 354.50H164.60" stroke="#00ffff" stroke-width="0.6" fill="none"/>
<polygon points="161.80,350.88 159.10,355.25 164.50,355.25" fill="none" stroke="#00ffff" stroke-width="0.6"/>
<path d="M167.70 350.00V351.20M164.90 350.00H170.50M164.90 351.20H170.50" stroke="#00ffff" stroke-width="0.6" fill="none"/>
<polygon points="167.70,347.58 165.00,351.95 170.40,351.95" fill="none" stroke="#00ffff" stroke-width="0.6"/>
<path d="M178.80 346.00V347.20M176.00 346.00H181.60M176.00 347.20H181.60" stroke="#00ffff" stroke-width="0.6" fill="none"/>
<polygon points="178.80,343.58 176.10,347.95 181.50,347.95" fill="none" stroke="#00ffff" stroke-width="0.6"/>
<path d="M181.70 346.00V347.20M178.90 346.00H184.50M178.90 347.20H184.50" stroke="#00ffff" stroke-width="0.6" fill="none"/>
<polygon points="181.70,343.58 179.00,347.95 184.40,347.95" fill="none" stroke="#00ffff" stroke-width="0.6"/>
<path d="M187.00 343.40V344.60M184.20 343.40H189.80M184.20 344.60H189.80" stroke="#00ffff" stroke-width="0.6" fill="none"/>
<polygon points="187.00,340.98 184.30,345.35 189.70,345.35" fill="none" stroke="#00ffff" stroke-width="0.6"/>
<path d="M199.30 336.80V338.00M196.50 336.80H202.10M196.50 338.00H202.10" stroke="#00ffff" stroke-width="0.6" fill="none"/>
<polygon points="199.30,334.38 196.60,338.75 202.00,338.75" fill="none" stroke="#00ffff" stroke-width="0.6"/>
<path d="M208.70 332.90V334.90M205.90 332.90H211.50M205.90 334.90H211.50" stroke="#00ffff" stroke-width="0.6" fill="none"/>
<polygon points="208.70,330.88 206.00,335.25 211.40,335.25" fill="none" stroke="#00ffff" stroke-width="0.6"/>
<path d="M208.70 336.80V338.80M205.90 336.80H211.50M205.90 338.80H211.50" stroke="#00ffff" stroke-width="0.6" fill="none"/>
<polygon points="208.70,334.78 206.00,339.15 211.40,339.15" fill="none" stroke="#00ffff" stroke-width="0.6"/>
<path d="M227.50 326.00V328.00M224.70 326.00H230.30M224.70 328.00H230.30" stroke="#00ffff" stroke-width="0.6" fill="none"/>
<polygon points="227.50,323.98 224.80,328.35 230.20,328.35" fill="none" stroke="#00ffff" stroke-width="0.6"/>
<path d="M232.80 326.00V329.00M230.00 326.00H235.60M230.00 329.00H235.60" stroke="#00ffff" stroke-width="0.6" fill="none"/>
<polygon points="232.80,324.48 230.10,328.85 235.50,328.85" fill="none" stroke="#00ffff" stroke-width="0.6"/>
<path d="M235.10 322.70V325.70M232.30 322.70H237.90M232.30 325.70H237.90" stroke="#00ffff" stroke-width="0.6" fill="none"/>
<polygon points="235.10,321.18 232.40,325.55 237.80,325.55" fill="none" stroke="#00ffff" stroke-width="0.6"/>
<path d="M238.10 324.50V327.50M235.30 324.50H240.90M235.30 327.50H240.90" stroke="#00ffff" stroke-width="0.6" fill="none"/>
<polygon points="238.10,322.98 235.40,327.35 240.80,327.35" fill="none" stroke="#00ffff" stroke-width="0.6"/>
<path d="M244.50 319.90V322.90M241.70 319.90H247.30M241.70 322.90H247.30" stroke="#00ffff" stroke-width="0.6" fill="none"/>
<polygon points="244.50,318.38 241.80,322.75 247.20,322.75" fill="none" stroke="#00ffff" stroke-width="0.6"/>
<path d="M262.10 302.80V314.80M259.30 302.80H264.90M259.30 314.80H264.90" stroke="#00ffff" stroke-width="0.6" fill="none"/>
<polygon points="262.10,305.78 259.40,310.15 264.80,310.15" fill="none" stroke="#00ffff" stroke-width="0.6"/>
<path d="M275.00 299.00V309.00M272.20 299.00H277.80M272.20 309.00H277.80" stroke="#00ffff" stroke-width="0.6" fill="none"/>
<polygon points="275.00,300.98 272.30,305.35 277.70,305.35" fill="none" stroke="#00ffff" stroke-width="0.6"/>
<path d="M279.70 301.90V314.50M276.90 301.90H282.50M276.90 314.50H282.50" stroke="#00ffff" stroke-width="0.6" fill="none"/>
<polygon points="279.70,305.18 277.00,309.55 282.40,309.55" fill="none" stroke="#00ffff" stroke-width="0.6"/>
<path d="M288.30 297.70V306.70M285.50 297.70H291.10M285.50 306.70H291.10" stroke="#00ffff" stroke-width="0.6" fill="none"/>
<polygon points="288.30,299.18 285.60,303.55 291.00,303.55" fill="none" stroke="#00ffff" stroke-width="0.6"/>
<path d="M288.30 302.70V313.70M285.50 302.70H291.10M285.50 313.70H291.10" stroke="#00ffff" stroke-width="0.6" fill="none"/>
<polygon points="288.30,305.18 285.60,309.55 291.00,309.55" fill="none" stroke="#00ffff" stroke-width="0.6"/>
<path d="M310.20 290.40V300.40M307.40 290.40H313.00M307.40 300.40H313.00" stroke="#00ffff" stroke-width="0.6" fill="none"/>
<polygon points="310.20,292.38 307.50,296.75 312.90,296.75" fill="none" stroke="#00ffff" stroke-width="0.6"/>
<path d="M312.90 286.60V296.60M310.10 286.60H315.70M310.10 296.60H315.70" stroke="#00ffff" stroke-width="0.6" fill="none"/>
<polygon points="312.90,288.58 310.20,292.95 315.60,292.95" fill="none" stroke="#00ffff" stroke-width="0.6"/>
<path d="M315.60 294.70V304.70M312.80 294.70H318.40M312.80 304.70H318.40" stroke="#00ffff" stroke-width="0.6" fill="none"/>
<polygon points="315.60,296.68 312.90,301.05 318.30,301.05" fill="none" stroke="#00ffff" stroke-width="0.6"/>
<path d="M326.20 297.90V306.90M323.40 297.90H329.00M323.40 306.90H329.00" stroke="#00ffff" stroke-width="0.6" fill="none"/>
<polygon points="326.20,299.38 323.50,303.75 328.90,303.75" fill="none" stroke="#00ffff" stroke-width="0.6"/>
<path d="M347.20 289.00V297.00M344.40 289.00H350.00M344.40 297.00H350.00" stroke="#00ffff" stroke-width="0.6" fill="none"/>
<polygon points="347.20,289.98 344.50,294.35 349.90,294.35" fill="none" stroke="#00ffff" stroke-width="0.6"/>
<path d="M350.50 281.40V292.60M347.70 281.40H353.30M347.70 292.60H353.30" stroke="#00ffff" stroke-width="0.6" fill="none"/>
<polygon points="350.50,283.98 347.80,288.35 353.20,288.35" fill="none" stroke="#00ffff" stroke-width="0.6"/>
<path d="M369.30 272.30V281.30M366.50 272.30H372.10M366.50 281.30H372.10" stroke="#00ffff" stroke-width="0.6" fill="none"/>
<polygon points="369.30,273.78 366.60,278.15 372.00,278.15" fill="none" stroke="#00ffff" stroke-width="0.6"/>
<path d="M372.90 257.30V273.30M370.10 257.30H375.70M370.10 273.30H375.70" stroke="#00ffff" stroke-width="0.6" fill="none"/>
<polygon points="372.90,262.28 370.20,266.65 375.60,266.65" fill="none" stroke="#00ffff" stroke-width="0.6"/>
<path d="M376.00 266.50V279.10M373.20 266.50H378.80M373.20 279.10H378.80" stroke="#00ffff" stroke-width="0.6" fill="none"/>
<polygon points="376.00,269.78 373.30,274.15 378.70,274.15" fill="none" stroke="#00ffff" stroke-width="0.6"/>
<path d="M388.40 278.40V294.00M385.60 278.40H391.20M385.60 294.00H391.20" stroke="#00ffff" stroke-width="0.6" fill="none"/>
<polygon points="388.40,283.18 385.70,287.55 391.10,287.55" fill="none" stroke="#00ffff" stroke-width="0.6"/>
<path d="M64.75 465.37 L65.22 462.54 L65.70 459.86 L66.17 457.31 L66.64 454.88 L67.12 452.57 L67.59 450.37 L68.06 448.26 L68.53 446.25 L69.01 444.32 L69.48 442.47 L69.95 440.70 L70.43 438.99 L70.90 437.35 L71.37 435.78 L71.85 434.25 L72.32 432.79 L72.79 431.37 L73.27 430.00 L73.74 428.68 L74.21 427.40 L74.68 426.16 L75.16 424.96 L75.63 423.79 L76.10 422.66 L76.58 421.56 L77.05 420.50 L77.52 419.46 L78.00 418.45 L78.47 417.47 L78.94 416.51 L79.42 415.58 L79.89 414.67 L80.36 413.79 L80.83 412.92 L81.31 412.08 L81.78 411.25 L82.25 410.44 L82.73 409.65 L83.20 408.88 L83.67 408.13 L84.15 407.39 L84.62 406.66 L85.09 405.96 L85.57 405.26 L86.04 404.58 L86.51 403.91 L86.98 403.25 L87.46 402.61 L87.93 401.98 L88.40 401.36 L88.88 400.75 L89.35 400.15 L89.82 399.56 L90.30 398.98 L90.77 398.41 L91.24 397.84 L91.72 397.29 L92.19 396.75 L92.66 396.21 L93.14 395.68 L93.61 395.16 L94.08 394.65 L94.55 394.15 L95.03 393.65 L95.50 393.16 L95.97 392.67 L96.45 392.20 L96.92 391.72 L97.39 391.26 L99.49 389.27 L101.58 387.38 L103.67 385.58 L105.76 383.86 L107.86 382.22 L109.95 380.63 L112.04 379.11 L114.13 377.64 L116.23 376.22 L118.32 374.84 L120.41 373.50 L122.50 372.20 L124.60 370.93 L126.69 369.69 L128.78 368.48 L130.87 367.30 L132.97 366.14 L135.06 365.00 L137.15 363.89 L139.24 362.79 L141.34 361.71 L143.43 360.65 L145.52 359.60 L147.61 358.57 L149.71 357.55 L151.80 356.55 L153.89 355.56 L155.98 354.58 L158.08 353.61 L160.17 352.65 L162.26 351.70 L164.35 350.76 L166.45 349.83 L168.54 348.91 L170.63 347.99 L172.72 347.08 L174.82 346.18 L176.91 345.29 L179.00 344.40 L184.19 342.22 L189.39 340.08 L194.58 337.97 L199.77 335.88 L204.97 333.82 L210.16 331.77 L215.35 329.75 L220.55 327.75 L225.74 325.76 L230.93 323.79 L236.12 321.83 L241.32 319.89 L246.51 317.95 L251.70 316.03 L256.90 314.12 L262.09 312.21 L267.28 310.32 L272.48 308.43 L277.67 306.55 L282.86 304.68 L288.06 302.81 L293.25 300.95 L298.44 299.09 L303.64 297.24 L308.83 295.40 L314.02 293.56 L319.22 291.73 L324.41 289.89 L329.60 288.07 L334.80 286.24 L339.99 284.42 L345.18 282.61 L350.38 280.79 L355.57 278.98 L360.76 277.18 L365.95 275.37 L371.15 273.57 L376.34 271.77 L381.53 269.97 L386.73 268.18 L391.92 266.39 L397.11 264.60 L402.31 262.81 L407.50 261.02" fill="none" stroke="#00ffff" stroke-width="0.6"/>
</g>
<g clip-path="url(#c)">
<path d="M74.70 468.50V469.10M71.90 468.50H77.50M71.90 469.10H77.50" stroke="#000000" stroke-width="0.6" fill="none"/>
<polygon points="74.70,465.78 72.00,470.15 77.40,470.15" fill="#000000"/>
<path d="M86.40 452.40V453.00M83.60 452.40H89.20M83.60 453.00H89.20" stroke="#000000" stroke-width="0.6" fill="none"/>
<polygon points="86.40,449.68 83.70,454.05 89.10,454.05" fill="#000000"/>
<path d="M94.60 444.60V445.20M91.80 444.60H97.40M91.80 445.20H97.40" stroke="#000000" stroke-width="0.6" fill="none"/>
<polygon points="94.60,441.88 91.90,446.25 97.30,446.25" fill="#000000"/>
<path d="M101.10 443.10V443.70M98.30 443.10H103.90M98.30 443.70H103.90" stroke="#000000" stroke-width="0.6" fill="none"/>
<polygon points="101.10,440.38 98.40,444.75 103.80,444.75" fill="#000000"/>
<path d="M107.80 438.00V438.60M105.00 438.00H110.60M105.00 438.60H110.60" stroke="#000000" stroke-width="0.6" fill="none"/>
<polygon points="107.80,435.28 105.10,439.65 110.50,439.65" fill="#000000"/>
<path d="M114.30 435.40V436.00M111.50 435.40H117.10M111.50 436.00H117.10" stroke="#000000" stroke-width="0.6" fill="none"/>
<polygon points="114.30,432.68 111.60,437.05 117.00,437.05" fill="#000000"/>
<path d="M124.60 431.00V431.60M121.80 431.00H127.40M121.80 431.60H127.40" stroke="#000000" stroke-width="0.6" fill="none"/>
<polygon points="124.60,428.28 121.90,432.65 127.30,432.65" fill="#000000"/>
<path d="M129.00 430.30V430.90M126.20 430.30H131.80M126.20 430.90H131.80" stroke="#000000" stroke-width="0.6" fill="none"/>
<polygon points="129.00,427.58 126.30,431.95 131.70,431.95" fill="#000000"/>
<path d="M140.70 425.10V425.70M137.90 425.10H143.50M137.90 425.70H143.50" stroke="#000000" stroke-width="0.6" fill="none"/>
<polygon points="140.70,422.38 138.00,426.75 143.40,426.75" fill="#000000"/>
<path d="M155.40 421.50V422.10M152.60 421.50H158.20M152.60 422.10H158.20" stroke="#000000" stroke-width="0.6" fill="none"/>
<polygon points="155.40,418.78 152.70,423.15 158.10,423.15" fill="#000000"/>
<path d="M161.80 418.20V418.80M159.00 418.20H164.60M159.00 418.80H164.60" stroke="#000000" stroke-width="0.6" fill="none"/>
<polygon points="161.80,415.48 159.10,419.85 164.50,419.85" fill="#000000"/>
<path d="M167.70 416.90V417.50M164.90 416.90H170.50M164.90 417.50H170.50" stroke="#000000" stroke-width="0.6" fill="none"/>
<polygon points="167.70,414.18 165.00,418.55 170.40,418.55" fill="#000000"/>
<path d="M178.80 414.20V414.80M176.00 414.20H181.60M176.00 414.80H181.60" stroke="#000000" stroke-width="0.6" fill="none"/>
<polygon points="178.80,411.48 176.10,415.85 181.50,415.85" fill="#000000"/>
<path d="M181.70 414.20V414.80M178.90 414.20H184.50M178.90 414.80H184.50" stroke="#000000" stroke-width="0.6" fill="none"/>
<polygon points="181.70,411.48 179.00,415.85 184.40,415.85" fill="#000000"/>
<path d="M187.00 413.10V413.70M184.20 413.10H189.80M184.20 413.70H189.80" stroke="#000000" stroke-width="0.6" fill="none"/>
<polygon points="187.00,410.38 184.30,414.75 189.70,414.75" fill="#000000"/>
<path d="M199.30 409.80V410.40M196.50 409.80H202.10M196.50 410.40H202.10" stroke="#000000" stroke-width="0.6" fill="none"/>
<polygon points="199.30,407.08 196.60,411.45 202.00,411.45" fill="#000000"/>
<path d="M208.70 405.70V406.30M205.90 405.70H211.50M205.90 406.30H211.50" stroke="#000000" stroke-width="0.6" fill="none"/>
<polygon points="208.70,402.98 206.00,407.35 211.40,407.35" fill="#000000"/>
<path d="M208.70 406.80V407.40M205.90 406.80H211.50M205.90 407.40H211.50" stroke="#000000" stroke-width="0.6" fill="none"/>
<polygon points="208.70,404.08 206.00,408.45 211.40,408.45" fill="#000000"/>
<path d="M227.50 402.50V403.10M224.70 402.50H230.30M224.70 403.10H230.30" stroke="#000000" stroke-width="0.6" fill="none"/>
<polygon points="227.50,399.78 224.80,404.15 230.20,404.15" fill="#000000"/>
<path d="M232.80 400.90V401.50M230.00 400.90H235.60M230.00 401.50H235.60" stroke="#000000" stroke-width="0.6" fill="none"/>
<polygon points="232.80,398.18 230.10,402.55 235.50,402.55" fill="#000000"/>
<path d="M235.10 400.20V400.80M232.30 400.20H237.90M232.30 400.80H237.90" stroke="#000000" stroke-width="0.6" fill="none"/>
<polygon points="235.10,397.48 232.40,401.85 237.80,401.85" fill="#000000"/>
<path d="M238.10 399.60V400.20M235.30 399.60H240.90M235.30 400.20H240.90" stroke="#000000" stroke-width="0.6" fill="none"/>
<polygon points="238.10,396.88 235.40,401.25 240.80,401.25" fill="#000000"/>
<path d="M244.50 398.00V398.60M241.70 398.00H247.30M241.70 398.60H247.30" stroke="#000000" stroke-width="0.6" fill="none"/>
<polygon points="244.50,395.28 241.80,399.65 247.20,399.65" fill="#000000"/>
<path d="M262.10 391.80V393.80M259.30 391.80H264.90M259.30 393.80H264.90" stroke="#000000" stroke-width="0.6" fill="none"/>
<polygon points="262.10,389.78 259.40,394.15 264.80,394.15" fill="#000000"/>
<path d="M275.00 392.30V394.30M272.20 392.30H277.80M272.20 394.30H277.80" stroke="#000000" stroke-width="0.6" fill="none"/>
<polygon points="275.00,390.28 272.30,394.65 277.70,394.65" fill="#000000"/>
<path d="M279.70 389.60V391.60M276.90 389.60H282.50M276.90 391.60H282.50" stroke="#000000" stroke-width="0.6" fill="none"/>
<polygon points="279.70,387.58 277.00,391.95 282.40,391.95" fill="#000000"/>
<path d="M288.30 385.20V388.20M285.50 385.20H291.10M285.50 388.20H291.10" stroke="#000000" stroke-width="0.6" fill="none"/>
<polygon points="288.30,383.68 285.60,388.05 291.00,388.05" fill="#000000"/>
<path d="M288.30 386.50V392.50M285.50 386.50H291.10M285.50 392.50H291.10" stroke="#000000" stroke-width="0.6" fill="none"/>
<polygon points="288.30,386.48 285.60,390.85 291.00,390.85" fill="#000000"/>
<path d="M310.20 384.20V387.20M307.40 384.20H313.00M307.40 387.20H313.00" stroke="#000000" stroke-width="0.6" fill="none"/>
<polygon points="310.20,382.68 307.50,387.05 312.90,387.05" fill="#000000"/>
<path d="M312.90 378.80V381.80M310.10 378.80H315.70M310.10 381.80H315.70" stroke="#000000" stroke-width="0.6" fill="none"/>
<polygon points="312.90,377.28 310.20,381.65 315.60,381.65" fill="#000000"/>
<path d="M315.60 382.00V385.00M312.80 382.00H318.40M312.80 385.00H318.40" stroke="#000000" stroke-width="0.6" fill="none"/>
<polygon points="315.60,380.48 312.90,384.85 318.30,384.85" fill="#000000"/>
<path d="M326.20 376.50V383.50M323.40 376.50H329.00M323.40 383.50H329.00" stroke="#000000" stroke-width="0.6" fill="none"/>
<polygon points="326.20,376.98 323.50,381.35 328.90,381.35" fill="#000000"/>
<path d="M347.20 377.50V381.50M344.40 377.50H350.00M344.40 381.50H350.00" stroke="#000000" stroke-width="0.6" fill="none"/>
<polygon points="347.20,376.48 344.50,380.85 349.90,380.85" fill="#000000"/>
<path d="M350.50 370.60V376.60M347.70 370.60H353.30M347.70 376.60H353.30" stroke="#000000" stroke-width="0.6" fill="none"/>
<polygon points="350.50,370.58 347.80,374.95 353.20,374.95" fill="#000000"/>
<path d="M369.30 364.40V370.40M366.50 364.40H372.10M366.50 370.40H372.10" stroke="#000000" stroke-width="0.6" fill="none"/>
<polygon points="369.30,364.38 366.60,368.75 372.00,368.75" fill="#000000"/>
<path d="M372.90 365.60V375.60M370.10 365.60H375.70M370.10 375.60H375.70" stroke="#000000" stroke-width="0.6" fill="none"/>
<polygon points="372.90,367.58 370.20,371.95 375.60,371.95" fill="#000000"/>
<path d="M376.00 356.70V364.70M373.20 356.70H378.80M373.20 364.70H378.80" stroke="#000000" stroke-width="0.6" fill="none"/>
<polygon points="376.00,357.68 373.30,362.05 378.70,362.05" fill="#000000"/>
<path d="M388.40 360.50V370.50M385.60 360.50H391.20M385.60 370.50H391.20" stroke="#000000" stroke-width="0.6" fill="none"/>
<polygon points="388.40,362.48 385.70,366.85 391.10,366.85" fill="#000000"/>
<path d="M64.75 489.46 L65.22 487.69 L65.70 486.01 L66.17 484.42 L66.64 482.90 L67.12 481.46 L67.59 480.08 L68.06 478.76 L68.53 477.51 L69.01 476.30 L69.48 475.15 L69.95 474.04 L70.43 472.97 L70.90 471.95 L71.37 470.96 L71.85 470.01 L72.32 469.09 L72.79 468.21 L73.27 467.35 L73.74 466.52 L74.21 465.72 L74.68 464.95 L75.16 464.20 L75.63 463.47 L76.10 462.76 L76.58 462.08 L77.05 461.41 L77.52 460.76 L78.00 460.13 L78.47 459.52 L78.94 458.92 L79.42 458.34 L79.89 457.77 L80.36 457.22 L80.83 456.68 L81.31 456.15 L81.78 455.63 L82.25 455.13 L82.73 454.63 L83.20 454.15 L83.67 453.68 L84.15 453.22 L84.62 452.77 L85.09 452.32 L85.57 451.89 L86.04 451.46 L86.51 451.04 L86.98 450.63 L87.46 450.23 L87.93 449.84 L88.40 449.45 L88.88 449.07 L89.35 448.69 L89.82 448.32 L90.30 447.96 L90.77 447.60 L91.24 447.25 L91.72 446.91 L92.19 446.57 L92.66 446.23 L93.14 445.90 L93.61 445.58 L94.08 445.26 L94.55 444.94 L95.03 444.63 L95.50 444.32 L95.97 444.02 L96.45 443.72 L96.92 443.43 L97.39 443.14 L99.49 441.89 L101.58 440.71 L103.67 439.59 L105.76 438.51 L107.86 437.48 L109.95 436.50 L112.04 435.54 L114.13 434.63 L116.23 433.74 L118.32 432.88 L120.41 432.04 L122.50 431.22 L124.60 430.43 L126.69 429.66 L128.78 428.90 L130.87 428.16 L132.97 427.44 L135.06 426.73 L137.15 426.03 L139.24 425.34 L141.34 424.67 L143.43 424.01 L145.52 423.35 L147.61 422.71 L149.71 422.07 L151.80 421.44 L153.89 420.82 L155.98 420.21 L158.08 419.61 L160.17 419.01 L162.26 418.41 L164.35 417.83 L166.45 417.24 L168.54 416.67 L170.63 416.09 L172.72 415.53 L174.82 414.96 L176.91 414.41 L179.00 413.85 L184.19 412.49 L189.39 411.15 L194.58 409.83 L199.77 408.52 L204.97 407.23 L210.16 405.96 L215.35 404.70 L220.55 403.44 L225.74 402.20 L230.93 400.97 L236.12 399.75 L241.32 398.53 L246.51 397.32 L251.70 396.12 L256.90 394.92 L262.09 393.73 L267.28 392.55 L272.48 391.37 L277.67 390.19 L282.86 389.02 L288.06 387.86 L293.25 386.69 L298.44 385.53 L303.64 384.38 L308.83 383.23 L314.02 382.08 L319.22 380.93 L324.41 379.78 L329.60 378.64 L334.80 377.50 L339.99 376.37 L345.18 375.23 L350.38 374.10 L355.57 372.97 L360.76 371.84 L365.95 370.71 L371.15 369.58 L376.34 368.46 L381.53 367.33 L386.73 366.21 L391.92 365.09 L397.11 363.97 L402.31 362.86 L407.50 361.74" fill="none" stroke="#000000" stroke-width="0.6"/>
</g>
<g clip-path="url(#c)">
<path d="M74.70 474.20V474.80M71.90 474.20H77.50M71.90 474.80H77.50" stroke="#ff4d00" stroke-width="0.6" fill="none"/>
<polygon points="74.70,477.52 72.00,473.15 77.40,473.15" fill="none" stroke="#ff4d00" stroke-width="0.6"/>
<path d="M86.40 459.80V460.40M83.60 459.80H89.20M83.60 460.40H89.20" stroke="#ff4d00" stroke-width="0.6" fill="none"/>
<polygon points="86.40,463.12 83.70,458.75 89.10,458.75" fill="none" stroke="#ff4d00" stroke-width="0.6"/>
<path d="M94.60 453.10V453.70M91.80 453.10H97.40M91.80 453.70H97.40" stroke="#ff4d00" stroke-width="0.6" fill="none"/>
<polygon points="94.60,456.42 91.90,452.05 97.30,452.05" fill="none" stroke="#ff4d00" stroke-width="0.6"/>
<path d="M101.10 451.30V451.90M98.30 451.30H103.90M98.30 451.90H103.90" stroke="#ff4d00" stroke-width="0.6" fill="none"/>
<polygon points="101.10,454.62 98.40,450.25 103.80,450.25" fill="none" stroke="#ff4d00" stroke-width="0.6"/>
<path d="M107.80 446.90V447.50M105.00 446.90H110.60M105.00 447.50H110.60" stroke="#ff4d00" stroke-width="0.6" fill="none"/>
<polygon points="107.80,450.22 105.10,445.85 110.50,445.85" fill="none" stroke="#ff4d00" stroke-width="0.6"/>
<path d="M114.30 444.30V444.90M111.50 444.30H117.10M111.50 444.90H117.10" stroke="#ff4d00" stroke-width="0.6" fill="none"/>
<polygon points="114.30,447.62 111.60,443.25 117.00,443.25" fill="none" stroke="#ff4d00" stroke-width="0.6"/>
<path d="M124.60 440.30V440.90M121.80 440.30H127.40M121.80 440.90H127.40" stroke="#ff4d00" stroke-width="0.6" fill="none"/>
<polygon points="124.60,443.62 121.90,439.25 127.30,439.25" fill="none" stroke="#ff4d00" stroke-width="0.6"/>
<path d="M129.00 439.20V439.80M126.20 439.20H131.80M126.20 439.80H131.80" stroke="#ff4d00" stroke-width="0.6" fill="none"/>
<polygon points="129.00,442.52 126.30,438.15 131.70,438.15" fill="none" stroke="#ff4d00" stroke-width="0.6"/>
<path d="M140.70 435.80V436.40M137.90 435.80H143.50M137.90 436.40H143.50" stroke="#ff4d00" stroke-width="0.6" fill="none"/>
<polygon points="140.70,439.12 138.00,434.75 143.40,434.75" fill="none" stroke="#ff4d00" stroke-width="0.6"/>
<path d="M155.40 431.90V432.50M152.60 431.90H158.20M152.60 432.50H158.20" stroke="#ff4d00" stroke-width="0.6" fill="none"/>
<polygon points="155.40,435.22 152.70,430.85 158.10,430.85" fill="none" stroke="#ff4d00" stroke-width="0.6"/>
<path d="M161.80 430.20V430.80M159.00 430.20H164.60M159.00 430.80H164.60" stroke="#ff4d00" stroke-width="0.6" fill="none"/>
<polygon points="161.80,433.52 159.10,429.15 164.50,429.15" fill="none" stroke="#ff4d00" stroke-width="0.6"/>
<path d="M167.70 428.20V428.80M164.90 428.20H170.50M164.90 428.80H170.50" stroke="#ff4d00" stroke-width="0.6" fill="none"/>
<polygon points="167.70,431.52 165.00,427.15 170.40,427.15" fill="none" stroke="#ff4d00" stroke-width="0.6"/>
<path d="M178.80 425.80V426.40M176.00 425.80H181.60M176.00 426.40H181.60" stroke="#ff4d00" stroke-width="0.6" fill="none"/>
<polygon points="178.80,429.12 176.10,424.75 181.50,424.75" fill="none" stroke="#ff4d00" stroke-width="0.6"/>
<path d="M181.70 425.80V426.40M178.90 425.80H184.50M178.90 426.40H184.50" stroke="#ff4d00" stroke-width="0.6" fill="none"/>
<polygon points="181.70,429.12 179.00,424.75 184.40,424.75" fill="none" stroke="#ff4d00" stroke-width="0.6"/>
<path d="M187.00 424.20V424.80M184.20 424.20H189.80M184.20 424.80H189.80" stroke="#ff4d00" stroke-width="0.6" fill="none"/>
<polygon points="187.00,427.52 184.30,423.15 189.70,423.15" fill="none" stroke="#ff4d00" stroke-width="0.6"/>
<path d="M199.30 421.40V422.00M196.50 421.40H202.10M196.50 422.00H202.10" stroke="#ff4d00" stroke-width="0.6" fill="none"/>
<polygon points="199.30,424.72 196.60,420.35 202.00,420.35" fill="none" stroke="#ff4d00" stroke-width="0.6"/>
<path d="M208.70 419.20V419.80M205.90 419.20H211.50M205.90 419.80H211.50" stroke="#ff4d00" stroke-width="0.6" fill="none"/>
<polygon points="208.70,422.52 206.00,418.15 211.40,418.15" fill="none" stroke="#ff4d00" stroke-width="0.6"/>
<path d="M208.70 419.80V420.40M205.90 419.80H211.50M205.90 420.40H211.50" stroke="#ff4d00" stroke-width="0.6" fill="none"/>
<polygon points="208.70,423.12 206.00,418.75 211.40,418.75" fill="none" stroke="#ff4d00" stroke-width="0.6"/>
<path d="M227.50 414.80V415.40M224.70 414.80H230.30M224.70 415.40H230.30" stroke="#ff4d00" stroke-width="0.6" fill="none"/>
<polygon points="227.50,418.12 224.80,413.75 230.20,413.75" fill="none" stroke="#ff4d00" stroke-width="0.6"/>
<path d="M232.80 412.90V413.50M230.00 412.90H235.60M230.00 413.50H235.60" stroke="#ff4d00" stroke-width="0.6" fill="none"/>
<polygon points="232.80,416.22 230.10,411.85 235.50,411.85" fill="none" stroke="#ff4d00" stroke-width="0.6"/>
<path d="M235.10 412.40V413.00M232.30 412.40H237.90M232.30 413.00H237.90" stroke="#ff4d00" stroke-width="0.6" fill="none"/>
<polygon points="235.10,415.72 232.40,411.35 237.80,411.35" fill="none" stroke="#ff4d00" stroke-width="0.6"/>
<path d="M238.10 412.40V413.00M235.30 412.40H240.90M235.30 413.00H240.90" stroke="#ff4d00" stroke-width="0.6" fill="none"/>
<polygon points="238.10,415.72 235.40,411.35 240.80,411.35" fill="none" stroke="#ff4d00" stroke-width="0.6"/>
<path d="M244.50 410.20V410.80M241.70 410.20H247.30M241.70 410.80H247.30" stroke="#ff4d00" stroke-width="0.6" fill="none"/>
<polygon points="244.50,413.52 241.80,409.15 247.20,409.15" fill="none" stroke="#ff4d00" stroke-width="0.6"/>
<path d="M262.10 406.90V408.90M259.30 406.90H264.90M259.30 408.90H264.90" stroke="#ff4d00" stroke-width="0.6" fill="none"/>
<polygon points="262.10,410.92 259.40,406.55 264.80,406.55" fill="none" stroke="#ff4d00" stroke-width="0.6"/>
<path d="M275.00 402.90V404.90M272.20 402.90H277.80M272.20 404.90H277.80" stroke="#ff4d00" stroke-width="0.6" fill="none"/>
<polygon points="275.00,406.92 272.30,402.55 277.70,402.55" fill="none" stroke="#ff4d00" stroke-width="0.6"/>
<path d="M279.70 407.30V409.30M276.90 407.30H282.50M276.90 409.30H282.50" stroke="#ff4d00" stroke-width="0.6" fill="none"/>
<polygon points="279.70,411.32 277.00,406.95 282.40,406.95" fill="none" stroke="#ff4d00" stroke-width="0.6"/>
<path d="M288.30 398.70V401.70M285.50 398.70H291.10M285.50 401.70H291.10" stroke="#ff4d00" stroke-width="0.6" fill="none"/>
<polygon points="288.30,403.22 285.60,398.85 291.00,398.85" fill="none" stroke="#ff4d00" stroke-width="0.6"/>
<path d="M288.30 400.80V404.80M285.50 400.80H291.10M285.50 404.80H291.10" stroke="#ff4d00" stroke-width="0.6" fill="none"/>
<polygon points="288.30,405.82 285.60,401.45 291.00,401.45" fill="none" stroke="#ff4d00" stroke-width="0.6"/>
<path d="M310.20 396.30V398.30M307.40 396.30H313.00M307.40 398.30H313.00" stroke="#ff4d00" stroke-width="0.6" fill="none"/>
<polygon points="310.20,400.32 307.50,395.95 312.90,395.95" fill="none" stroke="#ff4d00" stroke-width="0.6"/>
<path d="M312.90 396.30V398.30M310.10 396.30H315.70M310.10 398.30H315.70" stroke="#ff4d00" stroke-width="0.6" fill="none"/>
<polygon points="312.90,400.32 310.20,395.95 315.60,395.95" fill="none" stroke="#ff4d00" stroke-width="0.6"/>
<path d="M315.60 395.80V397.80M312.80 395.80H318.40M312.80 397.80H318.40" stroke="#ff4d00" stroke-width="0.6" fill="none"/>
<polygon points="315.60,399.82 312.90,395.45 318.30,395.45" fill="none" stroke="#ff4d00" stroke-width="0.6"/>
<path d="M326.20 393.50V398.50M323.40 393.50H329.00M323.40 398.50H329.00" stroke="#ff4d00" stroke-width="0.6" fill="none"/>
<polygon points="326.20,399.02 323.50,394.65 328.90,394.65" fill="none" stroke="#ff4d00" stroke-width="0.6"/>
<path d="M347.20 388.60V391.60M344.40 388.60H350.00M344.40 391.60H350.00" stroke="#ff4d00" stroke-width="0.6" fill="none"/>
<polygon points="347.20,393.12 344.50,388.75 349.90,388.75" fill="none" stroke="#ff4d00" stroke-width="0.6"/>
<path d="M350.50 388.00V391.00M347.70 388.00H353.30M347.70 391.00H353.30" stroke="#ff4d00" stroke-width="0.6" fill="none"/>
<polygon points="350.50,392.52 347.80,388.15 353.20,388.15" fill="none" stroke="#ff4d00" stroke-width="0.6"/>
<path d="M369.30 383.00V389.00M366.50 383.00H372.10M366.50 389.00H372.10" stroke="#ff4d00" stroke-width="0.6" fill="none"/>
<polygon points="369.30,389.02 366.60,384.65 372.00,384.65" fill="none" stroke="#ff4d00" stroke-width="0.6"/>
<path d="M372.90 383.40V392.40M370.10 383.40H375.70M370.10 392.40H375.70" stroke="#ff4d00" stroke-width="0.6" fill="none"/>
<polygon points="372.90,390.92 370.20,386.55 375.60,386.55" fill="none" stroke="#ff4d00" stroke-width="0.6"/>
<path d="M376.00 376.80V382.80M373.20 376.80H378.80M373.20 382.80H378.80" stroke="#ff4d00" stroke-width="0.6" fill="none"/>
<polygon points="376.00,382.82 373.30,378.45 378.70,378.45" fill="none" stroke="#ff4d00" stroke-width="0.6"/>
<path d="M388.40 370.00V380.00M385.60 370.00H391.20M385.60 380.00H391.20" stroke="#ff4d00" stroke-width="0.6" fill="none"/>
<polygon points="388.40,378.02 385.70,373.65 391.10,373.65" fill="none" stroke="#ff4d00" stroke-width="0.6"/>
<path d="M64.75 493.47 L65.22 491.88 L65.70 490.37 L66.17 488.94 L66.64 487.57 L67.12 486.27 L67.59 485.03 L68.06 483.85 L68.53 482.72 L69.01 481.63 L69.48 480.59 L69.95 479.59 L70.43 478.63 L70.90 477.71 L71.37 476.82 L71.85 475.97 L72.32 475.14 L72.79 474.35 L73.27 473.58 L73.74 472.83 L74.21 472.11 L74.68 471.41 L75.16 470.74 L75.63 470.08 L76.10 469.45 L76.58 468.83 L77.05 468.23 L77.52 467.65 L78.00 467.08 L78.47 466.53 L78.94 465.99 L79.42 465.46 L79.89 464.95 L80.36 464.45 L80.83 463.97 L81.31 463.49 L81.78 463.03 L82.25 462.57 L82.73 462.13 L83.20 461.70 L83.67 461.27 L84.15 460.86 L84.62 460.45 L85.09 460.05 L85.57 459.66 L86.04 459.28 L86.51 458.90 L86.98 458.53 L87.46 458.17 L87.93 457.81 L88.40 457.46 L88.88 457.12 L89.35 456.78 L89.82 456.45 L90.30 456.12 L90.77 455.80 L91.24 455.49 L91.72 455.18 L92.19 454.87 L92.66 454.57 L93.14 454.27 L93.61 453.98 L94.08 453.69 L94.55 453.41 L95.03 453.13 L95.50 452.85 L95.97 452.58 L96.45 452.31 L96.92 452.04 L97.39 451.78 L99.49 450.66 L101.58 449.60 L103.67 448.59 L105.76 447.62 L107.86 446.70 L109.95 445.81 L112.04 444.95 L114.13 444.12 L116.23 443.32 L118.32 442.55 L120.41 441.79 L122.50 441.06 L124.60 440.35 L126.69 439.65 L128.78 438.97 L130.87 438.31 L132.97 437.65 L135.06 437.01 L137.15 436.39 L139.24 435.77 L141.34 435.16 L143.43 434.56 L145.52 433.98 L147.61 433.40 L149.71 432.82 L151.80 432.26 L153.89 431.70 L155.98 431.15 L158.08 430.61 L160.17 430.07 L162.26 429.53 L164.35 429.00 L166.45 428.48 L168.54 427.96 L170.63 427.44 L172.72 426.93 L174.82 426.43 L176.91 425.92 L179.00 425.43 L184.19 424.20 L189.39 422.99 L194.58 421.81 L199.77 420.63 L204.97 419.47 L210.16 418.32 L215.35 417.19 L220.55 416.06 L225.74 414.94 L230.93 413.83 L236.12 412.73 L241.32 411.64 L246.51 410.55 L251.70 409.47 L256.90 408.39 L262.09 407.32 L267.28 406.25 L272.48 405.19 L277.67 404.13 L282.86 403.08 L288.06 402.03 L293.25 400.98 L298.44 399.94 L303.64 398.90 L308.83 397.86 L314.02 396.83 L319.22 395.80 L324.41 394.77 L329.60 393.74 L334.80 392.71 L339.99 391.69 L345.18 390.67 L350.38 389.65 L355.57 388.63 L360.76 387.61 L365.95 386.60 L371.15 385.58 L376.34 384.57 L381.53 383.56 L386.73 382.55 L391.92 381.54 L397.11 380.54 L402.31 379.53 L407.50 378.52" fill="none" stroke="#ff4d00" stroke-width="0.6"/>
</g>
<g clip-path="url(#c)">
<path d="M74.70 505.20V505.20M71.90 505.20H77.50M71.90 505.20H77.50" stroke="#808080" stroke-width="0.6" fill="none"/>
<polygon points="74.70,508.22 72.00,503.85 77.40,503.85" fill="#808080"/>
<path d="M86.40 498.98V498.98M83.60 498.98H89.20M83.60 498.98H89.20" stroke="#808080" stroke-width="0.6" fill="none"/>
<polygon points="86.40,502.00 83.70,497.62 89.10,497.62" fill="#808080"/>
<path d="M94.60 496.00V496.00M91.80 496.00H97.40M91.80 496.00H97.40" stroke="#808080" stroke-width="0.6" fill="none"/>
<polygon points="94.60,499.02 91.90,494.65 97.30,494.65" fill="#808080"/>
<path d="M101.10 495.33V495.33M98.30 495.33H103.90M98.30 495.33H103.90" stroke="#808080" stroke-width="0.6" fill="none"/>
<polygon points="101.10,498.35 98.40,493.98 103.80,493.98" fill="#808080"/>
<path d="M107.80 493.36V493.36M105.00 493.36H110.60M105.00 493.36H110.60" stroke="#808080" stroke-width="0.6" fill="none"/>
<polygon points="107.80,496.38 105.10,492.01 110.50,492.01" fill="#808080"/>
<path d="M114.30 492.24V492.24M111.50 492.24H117.10M111.50 492.24H117.10" stroke="#808080" stroke-width="0.6" fill="none"/>
<polygon points="114.30,495.27 111.60,490.89 117.00,490.89" fill="#808080"/>
<path d="M124.60 490.63V490.63M121.80 490.63H127.40M121.80 490.63H127.40" stroke="#808080" stroke-width="0.6" fill="none"/>
<polygon points="124.60,493.65 121.90,489.28 127.30,489.28" fill="#808080"/>
<path d="M129.00 490.06V490.06M126.20 490.06H131.80M126.20 490.06H131.80" stroke="#808080" stroke-width="0.6" fill="none"/>
<polygon points="129.00,493.08 126.30,488.71 131.70,488.71" fill="#808080"/>
<path d="M140.70 488.53V488.53M137.90 488.53H143.50M137.90 488.53H143.50" stroke="#808080" stroke-width="0.6" fill="none"/>
<polygon points="140.70,491.56 138.00,487.18 143.40,487.18" fill="#808080"/>
<path d="M155.40 486.58V486.58M152.60 486.58H158.20M152.60 486.58H158.20" stroke="#808080" stroke-width="0.6" fill="none"/>
<polygon points="155.40,489.61 152.70,485.23 158.10,485.23" fill="#808080"/>
<path d="M161.80 485.68V485.68M159.00 485.68H164.60M159.00 485.68H164.60" stroke="#808080" stroke-width="0.6" fill="none"/>
<polygon points="161.80,488.70 159.10,484.32 164.50,484.32" fill="#808080"/>
<path d="M167.70 485.02V485.02M164.90 485.02H170.50M164.90 485.02H170.50" stroke="#808080" stroke-width="0.6" fill="none"/>
<polygon points="167.70,488.05 165.00,483.67 170.40,483.67" fill="#808080"/>
<path d="M178.80 483.84V483.84M176.00 483.84H181.60M176.00 483.84H181.60" stroke="#808080" stroke-width="0.6" fill="none"/>
<polygon points="178.80,486.87 176.10,482.49 181.50,482.49" fill="#808080"/>
<path d="M181.70 483.65V483.65M178.90 483.65H184.50M178.90 483.65H184.50" stroke="#808080" stroke-width="0.6" fill="none"/>
<polygon points="181.70,486.67 179.00,482.30 184.40,482.30" fill="#808080"/>
<path d="M187.00 483.14V483.14M184.20 483.14H189.80M184.20 483.14H189.80" stroke="#808080" stroke-width="0.6" fill="none"/>
<polygon points="187.00,486.16 184.30,481.79 189.70,481.79" fill="#808080"/>
<path d="M199.30 481.89V481.89M196.50 481.89H202.10M196.50 481.89H202.10" stroke="#808080" stroke-width="0.6" fill="none"/>
<polygon points="199.30,484.91 196.60,480.54 202.00,480.54" fill="#808080"/>
<path d="M208.70 480.68V480.68M205.90 480.68H211.50M205.90 480.68H211.50" stroke="#808080" stroke-width="0.6" fill="none"/>
<polygon points="208.70,483.70 206.00,479.33 211.40,479.33" fill="#808080"/>
<path d="M227.50 479.11V479.11M224.70 479.11H230.30M224.70 479.11H230.30" stroke="#808080" stroke-width="0.6" fill="none"/>
<polygon points="227.50,482.14 224.80,477.76 230.20,477.76" fill="#808080"/>
<path d="M232.80 479.08V479.08M230.00 479.08H235.60M230.00 479.08H235.60" stroke="#808080" stroke-width="0.6" fill="none"/>
<polygon points="232.80,482.10 230.10,477.73 235.50,477.73" fill="#808080"/>
<path d="M235.10 478.34V478.34M232.30 478.34H237.90M232.30 478.34H237.90" stroke="#808080" stroke-width="0.6" fill="none"/>
<polygon points="235.10,481.36 232.40,476.99 237.80,476.99" fill="#808080"/>
<path d="M238.10 478.33V478.33M235.30 478.33H240.90M235.30 478.33H240.90" stroke="#808080" stroke-width="0.6" fill="none"/>
<polygon points="238.10,481.36 235.40,476.98 240.80,476.98" fill="#808080"/>
<path d="M244.50 477.55V477.55M241.70 477.55H247.30M241.70 477.55H247.30" stroke="#808080" stroke-width="0.6" fill="none"/>
<polygon points="244.50,480.57 241.80,476.20 247.20,476.20" fill="#808080"/>
<path d="M262.10 475.89V475.89M259.30 475.89H264.90M259.30 475.89H264.90" stroke="#808080" stroke-width="0.6" fill="none"/>
<polygon points="262.10,478.91 259.40,474.54 264.80,474.54" fill="#808080"/>
<path d="M275.00 474.74V474.74M272.20 474.74H277.80M272.20 474.74H277.80" stroke="#808080" stroke-width="0.6" fill="none"/>
<polygon points="275.00,477.77 272.30,473.39 277.70,473.39" fill="#808080"/>
<path d="M279.70 475.35V475.35M276.90 475.35H282.50M276.90 475.35H282.50" stroke="#808080" stroke-width="0.6" fill="none"/>
<polygon points="279.70,478.37 277.00,474.00 282.40,474.00" fill="#808080"/>
<path d="M288.30 473.59V473.59M285.50 473.59H291.10M285.50 473.59H291.10" stroke="#808080" stroke-width="0.6" fill="none"/>
<polygon points="288.30,476.62 285.60,472.24 291.00,472.24" fill="#808080"/>
<path d="M310.20 471.05V471.05M307.40 471.05H313.00M307.40 471.05H313.00" stroke="#808080" stroke-width="0.6" fill="none"/>
<polygon points="310.20,474.07 307.50,469.70 312.90,469.70" fill="#808080"/>
<path d="M312.90 471.27V471.27M310.10 471.27H315.70M310.10 471.27H315.70" stroke="#808080" stroke-width="0.6" fill="none"/>
<polygon points="312.90,474.29 310.20,469.92 315.60,469.92" fill="#808080"/>
<path d="M315.60 471.03V471.03M312.80 471.03H318.40M312.80 471.03H318.40" stroke="#808080" stroke-width="0.6" fill="none"/>
<polygon points="315.60,474.05 312.90,469.68 318.30,469.68" fill="#808080"/>
<path d="M326.20 470.09V470.09M323.40 470.09H329.00M323.40 470.09H329.00" stroke="#808080" stroke-width="0.6" fill="none"/>
<polygon points="326.20,473.12 323.50,468.74 328.90,468.74" fill="#808080"/>
<path d="M347.20 468.25V468.25M344.40 468.25H350.00M344.40 468.25H350.00" stroke="#808080" stroke-width="0.6" fill="none"/>
<polygon points="347.20,471.28 344.50,466.90 349.90,466.90" fill="#808080"/>
<path d="M350.50 467.39V467.39M347.70 467.39H353.30M347.70 467.39H353.30" stroke="#808080" stroke-width="0.6" fill="none"/>
<polygon points="350.50,470.41 347.80,466.04 353.20,466.04" fill="#808080"/>
<path d="M369.30 466.33V466.33M366.50 466.33H372.10M366.50 466.33H372.10" stroke="#808080" stroke-width="0.6" fill="none"/>
<polygon points="369.30,469.35 366.60,464.98 372.00,464.98" fill="#808080"/>
<path d="M372.90 465.44V465.44M370.10 465.44H375.70M370.10 465.44H375.70" stroke="#808080" stroke-width="0.6" fill="none"/>
<polygon points="372.90,468.46 370.20,464.09 375.60,464.09" fill="#808080"/>
<path d="M376.00 465.18V465.18M373.20 465.18H378.80M373.20 465.18H378.80" stroke="#808080" stroke-width="0.6" fill="none"/>
<polygon points="376.00,468.21 373.30,463.83 378.70,463.83" fill="#808080"/>
<path d="M388.40 464.10V464.10M385.60 464.10H391.20M385.60 464.10H391.20" stroke="#808080" stroke-width="0.6" fill="none"/>
<polygon points="388.40,467.12 385.70,462.75 391.10,462.75" fill="#808080"/>
<path d="M64.75 513.54 L65.22 512.84 L65.70 512.16 L66.17 511.53 L66.64 510.92 L67.12 510.34 L67.59 509.79 L68.06 509.27 L68.53 508.76 L69.01 508.28 L69.48 507.82 L69.95 507.37 L70.43 506.95 L70.90 506.54 L71.37 506.14 L71.85 505.76 L72.32 505.40 L72.79 505.04 L73.27 504.70 L73.74 504.37 L74.21 504.05 L74.68 503.74 L75.16 503.44 L75.63 503.15 L76.10 502.87 L76.58 502.59 L77.05 502.32 L77.52 502.07 L78.00 501.81 L78.47 501.57 L78.94 501.33 L79.42 501.10 L79.89 500.87 L80.36 500.65 L80.83 500.43 L81.31 500.22 L81.78 500.01 L82.25 499.81 L82.73 499.61 L83.20 499.42 L83.67 499.23 L84.15 499.05 L84.62 498.87 L85.09 498.69 L85.57 498.52 L86.04 498.34 L86.51 498.18 L86.98 498.01 L87.46 497.85 L87.93 497.69 L88.40 497.54 L88.88 497.39 L89.35 497.24 L89.82 497.09 L90.30 496.94 L90.77 496.80 L91.24 496.66 L91.72 496.52 L92.19 496.39 L92.66 496.25 L93.14 496.12 L93.61 495.99 L94.08 495.86 L94.55 495.74 L95.03 495.61 L95.50 495.49 L95.97 495.37 L96.45 495.25 L96.92 495.13 L97.39 495.01 L99.49 494.52 L101.58 494.04 L103.67 493.59 L105.76 493.17 L107.86 492.75 L109.95 492.36 L112.04 491.98 L114.13 491.61 L116.23 491.25 L118.32 490.91 L120.41 490.58 L122.50 490.25 L124.60 489.93 L126.69 489.62 L128.78 489.32 L130.87 489.02 L132.97 488.73 L135.06 488.45 L137.15 488.17 L139.24 487.90 L141.34 487.63 L143.43 487.36 L145.52 487.10 L147.61 486.84 L149.71 486.59 L151.80 486.34 L153.89 486.09 L155.98 485.84 L158.08 485.60 L160.17 485.36 L162.26 485.13 L164.35 484.89 L166.45 484.66 L168.54 484.43 L170.63 484.20 L172.72 483.97 L174.82 483.75 L176.91 483.52 L179.00 483.30 L184.19 482.76 L189.39 482.22 L194.58 481.69 L199.77 481.17 L204.97 480.65 L210.16 480.14 L215.35 479.64 L220.55 479.14 L225.74 478.64 L230.93 478.15 L236.12 477.66 L241.32 477.17 L246.51 476.69 L251.70 476.21 L256.90 475.73 L262.09 475.25 L267.28 474.78 L272.48 474.31 L277.67 473.84 L282.86 473.37 L288.06 472.90 L293.25 472.44 L298.44 471.97 L303.64 471.51 L308.83 471.05 L314.02 470.59 L319.22 470.13 L324.41 469.67 L329.60 469.22 L334.80 468.76 L339.99 468.31 L345.18 467.85 L350.38 467.40 L355.57 466.95 L360.76 466.49 L365.95 466.04 L371.15 465.59 L376.34 465.14 L381.53 464.69 L386.73 464.24 L391.92 463.80 L397.11 463.35 L402.31 462.90 L407.50 462.46" fill="none" stroke="#808080" stroke-width="0.6"/>
</g>
<path transform="translate(77.80,31.00) scale(0.007812,-0.007812)" d="M515 0V1237L197 1010V1180L530 1409H696V0Z" fill="#ff0000" stroke="#ff0000" stroke-width="23.0"/><text x="86.70" y="31.00" font-size="16" fill="#ff0000" stroke="#ff0000">5s</text>
<path d="M113.5 25.80H158.8M113.5 23.20V28.40M158.8 23.20V28.40" stroke="#ff0000" stroke-width="0.6" fill="none"/>
<rect x="133.55" y="23.15" width="5.30" height="5.30" fill="none" stroke="#ff0000" stroke-width="0.6"/>
<text x="85.80" y="47.65" font-size="16" fill="#00ff00" stroke="#00ff00">24</text>
<path d="M113.5 42.45H158.8M113.5 39.85V45.05M158.8 39.85V45.05" stroke="#00ff00" stroke-width="0.6" fill="none"/>
<rect x="133.40" y="39.65" width="5.60" height="5.60" fill="#00ff00"/>
<text x="85.80" y="64.30" font-size="16" fill="#0000ff" stroke="#0000ff">27</text>
<path d="M113.5 59.10H158.8M113.5 56.50V61.70M158.8 56.50V61.70" stroke="#0000ff" stroke-width="0.6" fill="none"/>
<circle cx="136.20" cy="59.10" r="2.65" fill="none" stroke="#0000ff" stroke-width="0.6"/>
<path transform="translate(85.80,80.95) scale(0.007812,-0.007812)" d="M515 0V1237L197 1010V1180L530 1409H696V0Z" fill="#ff00ff" stroke="#ff00ff" stroke-width="23.0"/><text x="94.70" y="80.95" font-size="16" fill="#ff00ff" stroke="#ff00ff">0</text>
<path d="M113.5 75.75H158.8M113.5 73.15V78.35M158.8 73.15V78.35" stroke="#ff00ff" stroke-width="0.6" fill="none"/>
<circle cx="136.20" cy="75.75" r="2.75" fill="#ff00ff"/>
<path transform="translate(76.90,97.60) scale(0.007812,-0.007812)" d="M515 0V1237L197 1010V1180L530 1409H696V0Z" fill="#00ffff" stroke="#00ffff" stroke-width="23.0"/><text x="85.80" y="97.60" font-size="16" fill="#00ffff" stroke="#00ffff">5a</text>
<path d="M113.5 92.40H158.8M113.5 89.80V95.00M158.8 89.80V95.00" stroke="#00ffff" stroke-width="0.6" fill="none"/>
<polygon points="136.20,89.38 133.50,93.75 138.90,93.75" fill="none" stroke="#00ffff" stroke-width="0.6"/>
<text x="94.70" y="114.25" font-size="16" fill="#000000" stroke="#000000">6</text>
<path d="M113.5 109.05H158.8M113.5 106.45V111.65M158.8 106.45V111.65" stroke="#000000" stroke-width="0.6" fill="none"/>
<polygon points="136.20,106.03 133.50,110.40 138.90,110.40" fill="#000000"/>
<text x="94.70" y="130.90" font-size="16" fill="#ff4d00" stroke="#ff4d00">8</text>
<path d="M113.5 125.70H158.8M113.5 123.10V128.30M158.8 123.10V128.30" stroke="#ff4d00" stroke-width="0.6" fill="none"/>
<polygon points="136.20,128.72 133.50,124.35 138.90,124.35" fill="none" stroke="#ff4d00" stroke-width="0.6"/>
<text x="94.70" y="147.55" font-size="16" fill="#808080" stroke="#808080">3</text>
<path d="M113.5 142.35H158.8M113.5 139.75V144.95M158.8 139.75V144.95" stroke="#808080" stroke-width="0.6" fill="none"/>
<polygon points="136.20,145.37 133.50,141.00 138.90,141.00" fill="#808080"/>
<path d="M64.75 1.55H407.5V529.6H64.75ZM64.75 433.60h5.2M407.5 433.60h-5.2M64.75 337.60h5.2M407.5 337.60h-5.2M64.75 241.60h5.2M407.5 241.60h-5.2M64.75 145.60h5.2M407.5 145.60h-5.2M64.75 49.60h5.2M407.5 49.60h-5.2M130.04 529.6v-5.2M130.04 1.55v5.2M211.64 529.6v-5.2M211.64 1.55v5.2M293.25 529.6v-5.2M293.25 1.55v5.2M374.86 529.6v-5.2M374.86 1.55v5.2" fill="none" stroke="#000" stroke-width="1"/>
<text x="45.60" y="535.35" font-size="16" fill="#000" stroke="#000">0</text>
<path transform="translate(36.70,439.35) scale(0.007812,-0.007812)" d="M515 0V1237L197 1010V1180L530 1409H696V0Z" fill="#000" stroke="#000" stroke-width="23.0"/><text x="45.60" y="439.35" font-size="16" fill="#000" stroke="#000">0</text>
<text x="36.70" y="343.35" font-size="16" fill="#000" stroke="#000">20</text>
<text x="36.70" y="247.35" font-size="16" fill="#000" stroke="#000">30</text>
<text x="36.70" y="151.35" font-size="16" fill="#000" stroke="#000">40</text>
<text x="36.70" y="55.35" font-size="16" fill="#000" stroke="#000">50</text>
<text x="118.91" y="551.70" font-size="16" fill="#000" stroke="#000">0.5</text>
<path transform="translate(207.19,551.70) scale(0.007812,-0.007812)" d="M515 0V1237L197 1010V1180L530 1409H696V0Z" fill="#000" stroke="#000" stroke-width="23.0"/>
<path transform="translate(282.13,551.70) scale(0.007812,-0.007812)" d="M515 0V1237L197 1010V1180L530 1409H696V0Z" fill="#000" stroke="#000" stroke-width="23.0"/><text x="291.03" y="551.70" font-size="16" fill="#000" stroke="#000">.5</text>
<text x="370.41" y="551.70" font-size="16" fill="#000" stroke="#000">2</text>
<text x="225.2" y="566.8" font-size="16" fill="#000" stroke="#000" textLength="14.4" lengthAdjust="spacingAndGlyphs">r/r</text><text x="240.1" y="572" font-size="13.5" fill="#000" stroke="#000">0</text>
<text transform="translate(12.5,304.8) rotate(-90)" font-size="16" fill="#000" stroke="#000">V<tspan dy="4.8" font-size="13.5">D</tspan><tspan dy="-4.8" font-size="16">(r/a,a)r</tspan><tspan dy="4.8" font-size="13.5">0</tspan></text>
</svg>
</body></html>
